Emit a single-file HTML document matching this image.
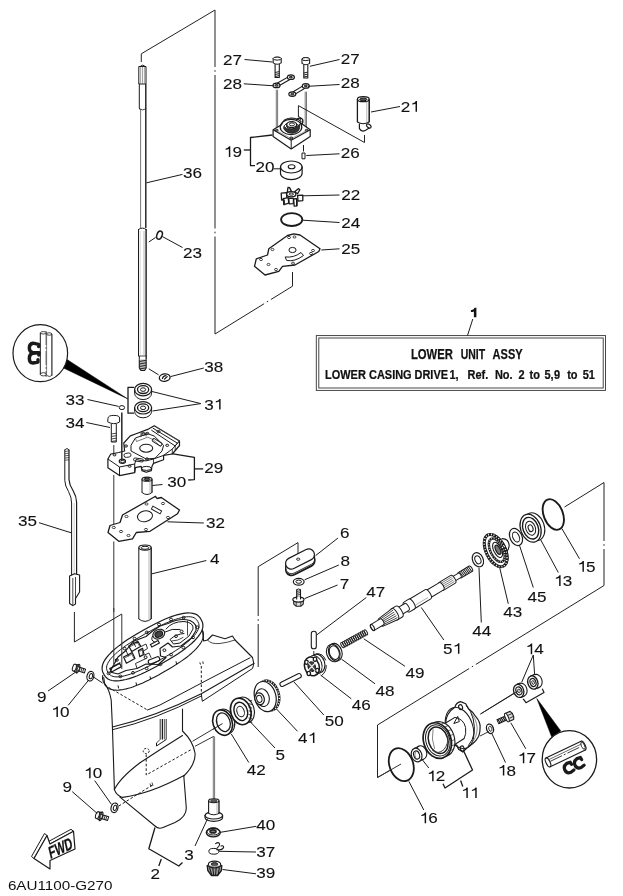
<!DOCTYPE html>
<html><head><meta charset="utf-8"><title>Lower Unit Assy</title>
<style>
html,body{margin:0;padding:0;background:#fff;}
body{width:623px;height:896px;overflow:hidden;font-family:"Liberation Sans",sans-serif;}
svg{display:block;will-change:transform;filter:grayscale(1);}
svg text{font-family:"Liberation Sans",sans-serif;fill:#111;stroke:#111;stroke-width:0.1px;}
svg text.b{stroke:#111;stroke-width:0.25px;}
svg text.n{stroke:none;}
</style></head><body>
<svg width="623" height="896" viewBox="0 0 623 896">
<rect width="623" height="896" fill="#fff"/>
<polyline points="141.3,62 141.3,53.8 215,10 215,334 292.5,286.2 292.5,272" fill="none" stroke="#222" stroke-width="1.0" stroke-linejoin="round" />
<line x1="215.0" y1="67.0" x2="215.0" y2="75.0" stroke="#fff" stroke-width="2.4" />
<line x1="215.0" y1="70.2" x2="215.0" y2="71.8" stroke="#222" stroke-width="1.0" />
<line x1="215.0" y1="228.5" x2="215.0" y2="236.5" stroke="#fff" stroke-width="2.4" />
<line x1="215.0" y1="231.7" x2="215.0" y2="233.3" stroke="#222" stroke-width="1.0" />
<line x1="264.0930922634278" y1="303.5959436238803" x2="270.9069077365722" y2="299.4040563761197" stroke="#fff" stroke-width="2.4" />
<line x1="266.81861845268554" y1="301.91918872477606" x2="268.18138154731446" y2="301.08081127522394" stroke="#222" stroke-width="1.0" />
<polyline points="74.4,612 74.4,642 121.8,614" fill="none" stroke="#222" stroke-width="1" stroke-linejoin="round" />
<line x1="113.8" y1="445" x2="113.8" y2="454" stroke="#333" stroke-width="1.0" />
<line x1="113.8" y1="475" x2="113.8" y2="524" stroke="#333" stroke-width="1.0" />
<line x1="113.8" y1="541.5" x2="113.8" y2="612" stroke="#333" stroke-width="1.0" />
<polyline points="298,557 298,542.6 258.2,566.7 258.2,667" fill="none" stroke="#222" stroke-width="1.0" stroke-linejoin="round" />
<line x1="258.2" y1="616.0" x2="258.2" y2="624.0" stroke="#fff" stroke-width="2.4" />
<line x1="258.2" y1="619.2" x2="258.2" y2="620.8" stroke="#222" stroke-width="1.0" />
<polyline points="564.5,507 604,482.5 604,585.5 377.5,725 377.5,777.5 401,764" fill="none" stroke="#222" stroke-width="1.0" stroke-linejoin="round" />
<line x1="604.0" y1="541.0" x2="604.0" y2="549.0" stroke="#fff" stroke-width="2.4" />
<line x1="604.0" y1="544.2" x2="604.0" y2="545.8" stroke="#222" stroke-width="1.0" />
<line x1="469.0930922634278" y1="668.5959436238803" x2="475.9069077365722" y2="664.4040563761197" stroke="#fff" stroke-width="2.4" />
<line x1="471.81861845268554" y1="666.9191887247761" x2="473.18138154731446" y2="666.0808112752239" stroke="#222" stroke-width="1.0" />
<line x1="220" y1="725" x2="192.5" y2="741.3" stroke="#333" stroke-width="1.0" />
<line x1="213.8" y1="736.3" x2="195" y2="746.3" stroke="#333" stroke-width="1.0" />
<line x1="213.3" y1="736.5" x2="213.3" y2="800" stroke="#555" stroke-width="0.8" />
<line x1="214.6" y1="736.5" x2="214.6" y2="800" stroke="#555" stroke-width="0.8" />
<line x1="480.5" y1="714" x2="515.8" y2="692" stroke="#333" stroke-width="1.0" />
<line x1="480" y1="736" x2="489" y2="731.5" stroke="#333" stroke-width="1.0" />
<path d="M140.2,66.5 Q142.6,63.6 145,66.5" fill="none" stroke="#1a1a1a" stroke-width="1" stroke-linejoin="round" stroke-linecap="round" />
<polygon points="138.8,66.5 146,66.5 146,84 138.8,84" fill="none" stroke="#1a1a1a" stroke-width="1.0" stroke-linejoin="round" />
<line x1="140.6" y1="67" x2="140.6" y2="84" stroke="#666" stroke-width="0.6" />
<line x1="142.5" y1="67" x2="142.5" y2="84" stroke="#666" stroke-width="0.6" />
<line x1="144.4" y1="67" x2="144.4" y2="84" stroke="#666" stroke-width="0.6" />
<polyline points="139.3,84 139.3,108 140.5,109.5" fill="none" stroke="#1a1a1a" stroke-width="1.0" stroke-linejoin="round" />
<line x1="145.8" y1="84" x2="145.8" y2="228" stroke="#1a1a1a" stroke-width="1.4" />
<path d="M139.3,109 Q142.6,111 145.8,109" fill="none" stroke="#1a1a1a" stroke-width="0.8" stroke-linejoin="round" stroke-linecap="round" />
<line x1="140.6" y1="109" x2="140.6" y2="228" stroke="#666" stroke-width="0.9" />
<path d="M138.5,229.5 Q142.4,226.5 146.1,229.5" fill="none" stroke="#1a1a1a" stroke-width="1.0" stroke-linejoin="round" stroke-linecap="round" />
<line x1="138.5" y1="229" x2="138.5" y2="356" stroke="#1a1a1a" stroke-width="1.0" />
<line x1="146.1" y1="229" x2="146.1" y2="356" stroke="#1a1a1a" stroke-width="1.4" />
<line x1="144" y1="231" x2="144" y2="355" stroke="#888" stroke-width="0.6" />
<line x1="140.2" y1="231" x2="140.2" y2="355" stroke="#aaa" stroke-width="0.5" />
<line x1="138" y1="356" x2="146.8" y2="356" stroke="#1a1a1a" stroke-width="0.8" />
<polyline points="139.3,359.5 139.3,368 141,370.5 144.6,370.5 146.2,368 146.2,359.5" fill="#bbb" stroke="#1a1a1a" stroke-width="1.1" stroke-linejoin="round" />
<line x1="139.3" y1="356" x2="139.3" y2="359.5" stroke="#1a1a1a" stroke-width="1.0" />
<line x1="146.2" y1="356" x2="146.2" y2="359.5" stroke="#1a1a1a" stroke-width="1.3" />
<line x1="139.5" y1="361.5" x2="146" y2="360.3" stroke="#222" stroke-width="1.0" />
<line x1="139.5" y1="364" x2="146" y2="362.8" stroke="#222" stroke-width="1.0" />
<line x1="139.5" y1="366.5" x2="146" y2="365.3" stroke="#222" stroke-width="1.0" />
<line x1="139.5" y1="369" x2="146" y2="367.8" stroke="#222" stroke-width="1.0" />
<ellipse cx="159.5" cy="235.2" rx="2.6" ry="4.2" fill="none" stroke="#1a1a1a" stroke-width="1.5" transform="rotate(20 159.5 235.2)" />
<line x1="148.8" y1="242" x2="155.5" y2="237.5" stroke="#1a1a1a" stroke-width="1.0" />
<line x1="162.3" y1="236.5" x2="182.5" y2="247.5" stroke="#1a1a1a" stroke-width="1.0" />
<line x1="182.5" y1="174.4" x2="146.5" y2="182.8" stroke="#1a1a1a" stroke-width="1.0" />
<ellipse cx="164.7" cy="377.6" rx="5.4" ry="3.7" fill="none" stroke="#1a1a1a" stroke-width="1.3" transform="rotate(-6 164.7 377.6)" />
<path d="M162.4,378.6 Q163,375.8 166,375.6 M164.6,379 L167.2,376.6" fill="none" stroke="#1a1a1a" stroke-width="1.2" stroke-linejoin="round" stroke-linecap="round" />
<line x1="148.8" y1="368.8" x2="158.5" y2="374.8" stroke="#1a1a1a" stroke-width="1.0" />
<line x1="203.8" y1="368" x2="170.5" y2="376.6" stroke="#1a1a1a" stroke-width="1.0" />
<path d="M134.6,389.6 L134.6,393.1 A8.5,6.5 0 0 0 151.6,393.1 L151.6,389.6" fill="none" stroke="#1a1a1a" stroke-width="1" stroke-linejoin="round" stroke-linecap="round" />
<ellipse cx="143.1" cy="389.6" rx="8.5" ry="6.2" fill="none" stroke="#1a1a1a" stroke-width="1.2" />
<ellipse cx="143.1" cy="389.6" rx="5.6" ry="3.9" fill="none" stroke="#1a1a1a" stroke-width="1.3" />
<ellipse cx="143.1" cy="389.6" rx="2.6" ry="1.8" fill="none" stroke="#1a1a1a" stroke-width="1.0" />
<path d="M134.6,407.8 L134.6,411.3 A8.5,6.5 0 0 0 151.6,411.3 L151.6,407.8" fill="none" stroke="#1a1a1a" stroke-width="1" stroke-linejoin="round" stroke-linecap="round" />
<ellipse cx="143.1" cy="407.8" rx="8.5" ry="6.2" fill="none" stroke="#1a1a1a" stroke-width="1.2" />
<ellipse cx="143.1" cy="407.8" rx="5.6" ry="3.9" fill="none" stroke="#1a1a1a" stroke-width="1.3" />
<ellipse cx="143.1" cy="407.8" rx="2.6" ry="1.8" fill="none" stroke="#1a1a1a" stroke-width="1.0" />
<polyline points="134,387.3 128,387.3 128,413.2 134,413.2" fill="none" stroke="#1a1a1a" stroke-width="1.3" stroke-linejoin="round" />
<line x1="200.8" y1="403.6" x2="152" y2="391.5" stroke="#1a1a1a" stroke-width="1.0" />
<line x1="200.8" y1="403.6" x2="152.5" y2="411" stroke="#1a1a1a" stroke-width="1.0" />
<ellipse cx="121.9" cy="407.6" rx="2.7" ry="2.0" fill="none" stroke="#1a1a1a" stroke-width="1" />
<line x1="87.5" y1="399.5" x2="118.6" y2="406.4" stroke="#1a1a1a" stroke-width="1.0" />
<path d="M108,418 Q108,415.4 113.8,415.4 Q119.6,415.4 119.6,418 L119.6,422 Q113.8,425.5 108,422 Z" fill="none" stroke="#1a1a1a" stroke-width="1" stroke-linejoin="round" stroke-linecap="round" />
<polyline points="111.3,424 111.3,442 116.3,442 116.3,424" fill="none" stroke="#1a1a1a" stroke-width="1" stroke-linejoin="round" />
<line x1="111.3" y1="434" x2="116.3" y2="433.2" stroke="#1a1a1a" stroke-width="0.8" />
<line x1="111.3" y1="436.5" x2="116.3" y2="435.7" stroke="#1a1a1a" stroke-width="0.8" />
<line x1="111.3" y1="439" x2="116.3" y2="438.2" stroke="#1a1a1a" stroke-width="0.8" />
<line x1="111.3" y1="441.5" x2="116.3" y2="440.7" stroke="#1a1a1a" stroke-width="0.8" />
<line x1="86.3" y1="422.5" x2="110" y2="427.5" stroke="#1a1a1a" stroke-width="1.0" />
<ellipse cx="277.2" cy="58.599999999999994" rx="4" ry="1.5" fill="#fff" stroke="#1a1a1a" stroke-width="1.0" />
<path d="M273.2,58.599999999999994 L273.2,62.9 Q277.2,65.5 281.2,62.9 L281.2,58.599999999999994" fill="#fff" stroke="#1a1a1a" stroke-width="1.1" stroke-linejoin="round" stroke-linecap="round" />
<ellipse cx="277.2" cy="58.599999999999994" rx="4" ry="1.5" fill="#fff" stroke="#1a1a1a" stroke-width="1.0" />
<polyline points="275.09999999999997,64.1 275.09999999999997,77.5 279.3,77.5 279.3,64.1" fill="none" stroke="#1a1a1a" stroke-width="1.1" stroke-linejoin="round" />
<line x1="275.09999999999997" y1="76.5" x2="279.3" y2="75.6" stroke="#222" stroke-width="1.0" />
<line x1="275.09999999999997" y1="74.5" x2="279.3" y2="73.6" stroke="#222" stroke-width="1.0" />
<line x1="275.09999999999997" y1="72.5" x2="279.3" y2="71.6" stroke="#222" stroke-width="1.0" />
<ellipse cx="305.8" cy="59.099999999999994" rx="3.8" ry="1.5" fill="#fff" stroke="#1a1a1a" stroke-width="1.0" />
<path d="M302.0,59.099999999999994 L302.0,63.4 Q305.8,66.0 309.6,63.4 L309.6,59.099999999999994" fill="#fff" stroke="#1a1a1a" stroke-width="1.1" stroke-linejoin="round" stroke-linecap="round" />
<ellipse cx="305.8" cy="59.099999999999994" rx="3.8" ry="1.5" fill="#fff" stroke="#1a1a1a" stroke-width="1.0" />
<polyline points="303.8,64.6 303.8,78 307.8,78 307.8,64.6" fill="none" stroke="#1a1a1a" stroke-width="1.1" stroke-linejoin="round" />
<line x1="303.8" y1="77" x2="307.8" y2="76.1" stroke="#222" stroke-width="1.0" />
<line x1="303.8" y1="75.0" x2="307.8" y2="74.1" stroke="#222" stroke-width="1.0" />
<line x1="303.8" y1="73.0" x2="307.8" y2="72.1" stroke="#222" stroke-width="1.0" />
<g transform="translate(276.5 85.4) rotate(-29.65910923599515)">
<path d="M0,-1.5 L16.571059109181867,-1.5 M0,1.5 L16.571059109181867,1.5" fill="none" stroke="#1a1a1a" stroke-width="1.1" stroke-linejoin="round" stroke-linecap="round" />
</g>
<ellipse cx="276.5" cy="85.4" rx="3.5" ry="2.3" fill="#fff" stroke="#1a1a1a" stroke-width="1.2" />
<ellipse cx="290.9" cy="77.2" rx="3.5" ry="2.3" fill="#fff" stroke="#1a1a1a" stroke-width="1.2" />
<ellipse cx="276.5" cy="85.4" rx="1.5" ry="0.9" fill="#777" stroke="#1a1a1a" stroke-width="1.0" />
<ellipse cx="290.9" cy="77.2" rx="1.5" ry="0.9" fill="#777" stroke="#1a1a1a" stroke-width="1.0" />
<g transform="translate(292.3 94.1) rotate(-31.274805482317028)">
<path d="M0,-1.5 L15.79525245129054,-1.5 M0,1.5 L15.79525245129054,1.5" fill="none" stroke="#1a1a1a" stroke-width="1.1" stroke-linejoin="round" stroke-linecap="round" />
</g>
<ellipse cx="292.3" cy="94.1" rx="3.5" ry="2.3" fill="#fff" stroke="#1a1a1a" stroke-width="1.2" />
<ellipse cx="305.8" cy="85.9" rx="3.5" ry="2.3" fill="#fff" stroke="#1a1a1a" stroke-width="1.2" />
<ellipse cx="292.3" cy="94.1" rx="1.5" ry="0.9" fill="#777" stroke="#1a1a1a" stroke-width="1.0" />
<ellipse cx="305.8" cy="85.9" rx="1.5" ry="0.9" fill="#777" stroke="#1a1a1a" stroke-width="1.0" />
<line x1="276.29999999999995" y1="89.7" x2="276.29999999999995" y2="130.2" stroke="#555" stroke-width="0.8" />
<line x1="277.59999999999997" y1="89.7" x2="277.59999999999997" y2="130.2" stroke="#555" stroke-width="0.8" />
<line x1="305.2" y1="91.7" x2="305.2" y2="130.2" stroke="#555" stroke-width="0.8" />
<line x1="306.5" y1="91.7" x2="306.5" y2="130.2" stroke="#555" stroke-width="0.8" />
<polygon points="273.1,129.7 286.5,121.8 300,122.5 310.2,129.7 310.2,136.4 291.2,149 273.1,136.4" fill="#fff" stroke="#1a1a1a" stroke-width="1.2" stroke-linejoin="round" />
<polyline points="273.1,129.7 291.2,140.3 310.2,129.7" fill="none" stroke="#1a1a1a" stroke-width="1.1" stroke-linejoin="round" />
<line x1="291.2" y1="140.3" x2="291.2" y2="149" stroke="#1a1a1a" stroke-width="1" />
<polyline points="275.5,130 291.2,138.6 307.8,130" fill="none" stroke="#666" stroke-width="0.6" stroke-linejoin="round" />
<ellipse cx="291" cy="127" rx="10.8" ry="7.6" fill="#fff" stroke="#1a1a1a" stroke-width="1.2" />
<path d="M281.5,125 Q283,118.5 291,118 Q297.5,118 301,121.5" fill="none" stroke="#1a1a1a" stroke-width="1.1" stroke-linejoin="round" stroke-linecap="round" />
<ellipse cx="291.3" cy="127.6" rx="7.6" ry="5" fill="none" stroke="#1a1a1a" stroke-width="1.0" />
<path d="M284.5,129.5 Q287,133.6 293,133.2 Q299,132.5 299.6,127.6 L299.6,124 Q296,129.5 290,129.3 Q286,129 284.5,126.8 Z" fill="#333" stroke="#1a1a1a" stroke-width="0.8" stroke-linejoin="round" stroke-linecap="round" />
<ellipse cx="291.7" cy="124.6" rx="5" ry="3" fill="#fff" stroke="#1a1a1a" stroke-width="1.1" />
<ellipse cx="291.9" cy="124.4" rx="2.6" ry="1.5" fill="none" stroke="#1a1a1a" stroke-width="1.0" />
<path d="M286.7,124.6 L286.7,127 Q291.7,131 296.7,127 L296.7,124.6" fill="none" stroke="#1a1a1a" stroke-width="1.0" stroke-linejoin="round" stroke-linecap="round" />
<path d="M296.5,119.8 Q300,116.4 302.6,119.4 Q303.6,122.5 301.4,124.6" fill="none" stroke="#1a1a1a" stroke-width="1.3" stroke-linejoin="round" stroke-linecap="round" />
<path d="M299.4,116.6 Q301,117.6 300.6,119.4" fill="none" stroke="#1a1a1a" stroke-width="1.0" stroke-linejoin="round" stroke-linecap="round" />
<ellipse cx="276.8" cy="130.2" rx="1.4" ry="0.9" fill="none" stroke="#1a1a1a" stroke-width="1.0" />
<ellipse cx="306.6" cy="130.2" rx="1.4" ry="0.9" fill="none" stroke="#1a1a1a" stroke-width="1.0" />
<ellipse cx="291.3" cy="138" rx="1.5" ry="1" fill="#999" stroke="#1a1a1a" stroke-width="1.0" />
<polyline points="298.4,117 298.4,105.6 364.5,142.5 364.5,135" fill="none" stroke="#222" stroke-width="1.0" stroke-linejoin="round" />
<ellipse cx="363.3" cy="99.2" rx="5.9" ry="2.5" fill="#fff" stroke="#1a1a1a" stroke-width="1.3" />
<ellipse cx="363.3" cy="99.4" rx="3.6" ry="1.4" fill="#555" stroke="#1a1a1a" stroke-width="1.0" />
<line x1="357.4" y1="99.2" x2="357.4" y2="122" stroke="#1a1a1a" stroke-width="1.3" />
<line x1="369.2" y1="99.2" x2="369.2" y2="122" stroke="#1a1a1a" stroke-width="1.5" />
<path d="M357.4,122 Q363,125.4 369.2,122" fill="none" stroke="#1a1a1a" stroke-width="1.1" stroke-linejoin="round" stroke-linecap="round" />
<line x1="366.8" y1="101.5" x2="366.8" y2="122.6" stroke="#888" stroke-width="0.6" />
<path d="M359.4,124 L359.4,128.6 Q361.6,132.4 365.6,130.2 L369.6,127.8" fill="none" stroke="#1a1a1a" stroke-width="1.2" stroke-linejoin="round" stroke-linecap="round" />
<ellipse cx="368.8" cy="126" rx="1.6" ry="2.6" fill="#fff" stroke="#1a1a1a" stroke-width="1.1" transform="rotate(-50 368.8 126)" />
<polyline points="272.5,135 250.5,137.5 250.5,165.7 255,165.7" fill="none" stroke="#1a1a1a" stroke-width="1.3" stroke-linejoin="round" />
<line x1="243.8" y1="150" x2="250.5" y2="150" stroke="#1a1a1a" stroke-width="1.3" />
<ellipse cx="291.3" cy="167" rx="10.8" ry="6" fill="none" stroke="#1a1a1a" stroke-width="1.2" />
<path d="M280.5,167 L280.5,173.6 A10.8,6 0 0 0 302.1,173.6 L302.1,167" fill="none" stroke="#1a1a1a" stroke-width="1.2" stroke-linejoin="round" stroke-linecap="round" />
<ellipse cx="291.6" cy="166.8" rx="3.4" ry="2" fill="none" stroke="#1a1a1a" stroke-width="1.1" />
<line x1="273.8" y1="168.8" x2="280.6" y2="168.8" stroke="#1a1a1a" stroke-width="1.0" />
<polygon points="302,153 305,153 305,158.8 302,158.8" fill="none" stroke="#1a1a1a" stroke-width="1" stroke-linejoin="round" />
<line x1="303.5" y1="145" x2="303.5" y2="151.5" stroke="#1a1a1a" stroke-width="1.0" />
<line x1="339.5" y1="153.8" x2="306.3" y2="155.5" stroke="#1a1a1a" stroke-width="1.0" />
<polygon points="287.2,192.6 288,187.4 289.6,187.6 291.5,191.6" fill="#fff" stroke="#1a1a1a" stroke-width="1.3" stroke-linejoin="round" />
<polygon points="294.6,191.8 298.6,188.6 299.8,189.8 297.6,193.8" fill="#fff" stroke="#1a1a1a" stroke-width="1.3" stroke-linejoin="round" />
<polygon points="281.2,193.2 286.4,192.6 287,199 281.6,200" fill="#fff" stroke="#1a1a1a" stroke-width="1.3" stroke-linejoin="round" />
<polygon points="297.6,195.4 302.8,195.2 302.8,200.6 298,201.2" fill="#fff" stroke="#1a1a1a" stroke-width="1.3" stroke-linejoin="round" />
<polygon points="283.2,198.6 288.2,197.6 288.8,203.2 284,204.6" fill="#fff" stroke="#1a1a1a" stroke-width="1.3" stroke-linejoin="round" />
<polygon points="288.8,198.2 293.4,198.4 293.4,203.6 289.2,203.8" fill="#fff" stroke="#1a1a1a" stroke-width="1.3" stroke-linejoin="round" />
<polygon points="293.6,199 296.6,198.6 296.8,205.8 294.2,206.2" fill="#fff" stroke="#1a1a1a" stroke-width="1.3" stroke-linejoin="round" />
<path d="M284,204.4 L284,200 M296.8,205.6 L296.8,200" fill="none" stroke="#1a1a1a" stroke-width="1.6" stroke-linejoin="round" stroke-linecap="round" />
<ellipse cx="291.3" cy="194.2" rx="4.6" ry="2.6" fill="#fff" stroke="#1a1a1a" stroke-width="1.3" />
<ellipse cx="291.3" cy="194.1" rx="2.2" ry="1.1" fill="none" stroke="#1a1a1a" stroke-width="1" />
<line x1="339.5" y1="195" x2="303" y2="195.8" stroke="#1a1a1a" stroke-width="1.0" />
<ellipse cx="291.7" cy="219.6" rx="10.6" ry="6.4" fill="none" stroke="#1a1a1a" stroke-width="1.8" />
<line x1="339.5" y1="222.5" x2="302.6" y2="220.2" stroke="#1a1a1a" stroke-width="1.0" />
<polygon points="293.8,233.8 300,235 320,248.8 318.8,251.5 295,265 282.5,266.3 278.8,271.3 265,275 254.5,266.3 256.3,258.8 267.5,255 268.8,248.8 287.5,235.5" fill="none" stroke="#1a1a1a" stroke-width="1.3" stroke-linejoin="round" />
<ellipse cx="292.5" cy="250" rx="3.6" ry="2.6" fill="none" stroke="#1a1a1a" stroke-width="1" />
<path d="M285.5,257 Q294,258 301,252.5 L303.5,255.5 Q295,262 287,260.5 Z" fill="none" stroke="#1a1a1a" stroke-width="1.0" stroke-linejoin="round" stroke-linecap="round" />
<ellipse cx="289" cy="237.5" rx="1.5" ry="1.1" fill="none" stroke="#1a1a1a" stroke-width="0.8" />
<ellipse cx="294.5" cy="237" rx="1.5" ry="1.1" fill="none" stroke="#1a1a1a" stroke-width="0.8" />
<ellipse cx="272.5" cy="249.5" rx="1.5" ry="1.1" fill="none" stroke="#1a1a1a" stroke-width="0.8" />
<ellipse cx="313" cy="250.5" rx="1.5" ry="1.1" fill="none" stroke="#1a1a1a" stroke-width="0.8" />
<ellipse cx="311" cy="253.5" rx="1.5" ry="1.1" fill="none" stroke="#1a1a1a" stroke-width="0.8" />
<ellipse cx="261" cy="259.5" rx="1.5" ry="1.1" fill="none" stroke="#1a1a1a" stroke-width="0.8" />
<ellipse cx="268.5" cy="264.5" rx="1.5" ry="1.1" fill="none" stroke="#1a1a1a" stroke-width="0.8" />
<ellipse cx="276" cy="269.5" rx="1.5" ry="1.1" fill="none" stroke="#1a1a1a" stroke-width="0.8" />
<ellipse cx="293" cy="263.2" rx="1.5" ry="1.1" fill="none" stroke="#1a1a1a" stroke-width="0.8" />
<line x1="339.5" y1="248.8" x2="321.3" y2="250" stroke="#1a1a1a" stroke-width="1.0" />
<rect x="316.3" y="335.6" width="289.2" height="54.8" fill="none" stroke="#333" stroke-width="0.9"/>
<rect x="318.8" y="338" width="284.4" height="50" fill="none" stroke="#333" stroke-width="0.9"/>
<text class="b" x="410.9" y="358.9" font-size="14.7" font-weight="bold" textLength="42.0" lengthAdjust="spacingAndGlyphs">LOWER</text>
<text class="b" x="460.7" y="358.9" font-size="14.7" font-weight="bold" textLength="24.4" lengthAdjust="spacingAndGlyphs">UNIT</text>
<text class="b" x="492.6" y="358.9" font-size="14.7" font-weight="bold" textLength="30.0" lengthAdjust="spacingAndGlyphs">ASSY</text>
<text class="b" transform="translate(325.0 378.9) scale(0.85 1)" font-size="12.9" font-weight="bold">LOWER</text>
<text class="b" transform="translate(369.0 378.9) scale(0.85 1)" font-size="12.9" font-weight="bold">CASING</text>
<text class="b" transform="translate(414.5 378.9) scale(0.85 1)" font-size="12.9" font-weight="bold">DRIVE</text>
<text class="b" transform="translate(449.5 378.9) scale(0.85 1)" font-size="12.9" font-weight="bold">1,</text>
<text class="b" transform="translate(467.6 378.9) scale(0.85 1)" font-size="12.9" font-weight="bold">Ref.</text>
<text class="b" transform="translate(494.9 378.9) scale(0.85 1)" font-size="12.9" font-weight="bold">No.</text>
<text class="b" transform="translate(518.6 378.9) scale(0.85 1)" font-size="12.9" font-weight="bold">2</text>
<text class="b" transform="translate(529.5 378.9) scale(0.85 1)" font-size="12.9" font-weight="bold">to</text>
<text class="b" transform="translate(544.5 378.9) scale(0.85 1)" font-size="12.9" font-weight="bold">5,</text>
<text class="b" transform="translate(554.1 378.9) scale(0.85 1)" font-size="12.9" font-weight="bold">9</text>
<text class="b" transform="translate(567.2 378.9) scale(0.85 1)" font-size="12.9" font-weight="bold">to</text>
<text class="b" transform="translate(582.7 378.9) scale(0.85 1)" font-size="12.9" font-weight="bold">51</text>
<path d="M476.4,317.3 L476.4,307.8 L474.7,307.8 Q473.7,310 470.9,310.3 L470.9,312 Q472.7,312 473.9,311.5 L473.9,317.3 Z" fill="#111"/>
<line x1="472.8" y1="319" x2="467.5" y2="335.5" stroke="#1a1a1a" stroke-width="1.0" />
<polygon points="65.5,358.5 63.5,368 127.8,398.9" fill="#000" stroke="#000" stroke-width="0.5" stroke-linejoin="round" />
<ellipse cx="40.3" cy="353.2" rx="27.3" ry="28.5" fill="#fff" stroke="#1a1a1a" stroke-width="1.2" />
<line x1="40.3" y1="333" x2="40.3" y2="374.5" stroke="#1a1a1a" stroke-width="1" />
<line x1="51.9" y1="334" x2="51.9" y2="375.5" stroke="#1a1a1a" stroke-width="1.1" />
<line x1="46.1" y1="331" x2="46.1" y2="377" stroke="#333" stroke-width="0.8" stroke-dasharray="14 2 2 2"/>
<line x1="46.6" y1="334" x2="46.6" y2="373" stroke="#555" stroke-width="0.7" />
<ellipse cx="43.4" cy="332.8" rx="3.1" ry="1.2" fill="none" stroke="#1a1a1a" stroke-width="0.8" />
<ellipse cx="49.2" cy="334" rx="2.7" ry="1.2" fill="none" stroke="#1a1a1a" stroke-width="0.8" />
<ellipse cx="43.4" cy="374.3" rx="3.1" ry="1.6" fill="none" stroke="#1a1a1a" stroke-width="0.8" />
<path d="M46.6,375 Q49.3,378 51.9,375.2" fill="none" stroke="#1a1a1a" stroke-width="0.8" stroke-linejoin="round" stroke-linecap="round" />
<path d="M38.6,346.6 L38.6,344.4 L33,343.2 Q29.3,343.6 29.3,348 Q29.3,352 33,352.6 L38.8,352.6" fill="none" stroke="#1a1a1a" stroke-width="3.4" stroke-linejoin="round" stroke-linecap="round" />
<path d="M38.8,352.6 L38.8,355 M38.8,352.6 L33,353.2 Q29.3,354 29.3,358.4 Q29.3,362.6 33,363 L38,362 L38,359.8" fill="none" stroke="#1a1a1a" stroke-width="3.4" stroke-linejoin="round" stroke-linecap="round" />
<polygon points="536.8,698.5 551.6,736.8 560.8,731" fill="#000" stroke="#000" stroke-width="0.5" stroke-linejoin="round" />
<ellipse cx="569.4" cy="759.3" rx="27.2" ry="28.7" fill="#fff" stroke="#1a1a1a" stroke-width="1.3" />
<g transform="translate(565.6 754) rotate(-25.6)">
<path d="M-19.5,-4.9 L19.5,-4.9 M-19.5,4.9 L19.5,4.9" fill="none" stroke="#1a1a1a" stroke-width="1.1" stroke-linejoin="round" stroke-linecap="round" />
<ellipse cx="-19.5" cy="0" rx="2" ry="4.9" fill="none" stroke="#1a1a1a" stroke-width="1.1" />
<path d="M19.5,-4.9 A2,4.9 0 0 1 19.5,4.9" fill="none" stroke="#1a1a1a" stroke-width="1.1" stroke-linejoin="round" stroke-linecap="round" />
<ellipse cx="19.2" cy="0" rx="1.6" ry="3.8" fill="none" stroke="#1a1a1a" stroke-width="0.8" />
<line x1="-17" y1="0" x2="17" y2="0" stroke="#222" stroke-width="0.8" stroke-dasharray="13 2 2 2"/>
<line x1="-18" y1="-2.2" x2="19" y2="-2.2" stroke="#444" stroke-width="0.7" />
</g>
<g transform="translate(573.4 765.6) rotate(-25)">
<path d="M-1.2,-2.0 L-1.4,-4.4 L-5,-4.8 Q-9.6,-4 -9.6,0.4 Q-9.6,4.8 -5,5 L-1.4,4.2" fill="none" stroke="#1a1a1a" stroke-width="3.2" stroke-linejoin="round" stroke-linecap="round" />
<path d="M10,-2.0 L9.8,-4.4 L6.2,-4.8 Q1.6,-4 1.6,0.4 Q1.6,4.8 6.2,5 L9.8,4.2" fill="none" stroke="#1a1a1a" stroke-width="3.2" stroke-linejoin="round" stroke-linecap="round" />
</g>
<polygon points="107.9,459 110.8,454 118.8,452.5 124.6,451 123.8,443 130.3,435.9 136.1,433.7 147.7,429.4 154.2,425.8 179.5,441 179.5,445.5 172.3,454 163.6,455.4 163.6,459.7 153.5,463.4 152,466.2 151.3,470.6 146.2,472.3 141.9,470.6 141.2,466.4 135.4,467.7 134.7,472.7 119.5,475.6 107.9,467.7" fill="#fff" stroke="#1a1a1a" stroke-width="1.2" stroke-linejoin="round" />
<polyline points="107.9,459 119.5,467 134.7,464 136.1,459.4 141,460.6 146.2,460.8 153.5,459 163.6,455.4" fill="none" stroke="#1a1a1a" stroke-width="1" stroke-linejoin="round" />
<line x1="119.5" y1="467" x2="119.5" y2="475.6" stroke="#1a1a1a" stroke-width="1" />
<line x1="134.7" y1="464" x2="134.7" y2="472.7" stroke="#1a1a1a" stroke-width="1.0" />
<polyline points="153.5,459 153.5,463.4" fill="none" stroke="#1a1a1a" stroke-width="0.8" stroke-linejoin="round" />
<polyline points="172.3,449 172.3,454" fill="none" stroke="#1a1a1a" stroke-width="0.8" stroke-linejoin="round" />
<polyline points="163.6,455.4 172.3,449 179.5,441" fill="none" stroke="#1a1a1a" stroke-width="1.0" stroke-linejoin="round" />
<line x1="152.7" y1="428" x2="177.3" y2="443.1" stroke="#1a1a1a" stroke-width="1.0" />
<line x1="151.3" y1="430.1" x2="175.2" y2="446" stroke="#1a1a1a" stroke-width="1.0" />
<line x1="156.6" y1="427.3" x2="179.5" y2="441.2" stroke="#555" stroke-width="0.6" />
<polyline points="179.5,441 177.3,443.1 175.2,446 175.2,450" fill="none" stroke="#1a1a1a" stroke-width="0.8" stroke-linejoin="round" />
<polygon points="131,445.3 135.4,438 147.7,433.7 154.2,436 163.6,445.3 162,451 155,458.3 146.2,459 131,451" fill="none" stroke="#1a1a1a" stroke-width="1" stroke-linejoin="round" />
<polyline points="135.4,438 136.5,441.5 147.7,437.2 153,439.5 160.5,446.5" fill="none" stroke="#444" stroke-width="0.7" stroke-linejoin="round" />
<ellipse cx="146.2" cy="448.2" rx="6.5" ry="4" fill="none" stroke="#1a1a1a" stroke-width="1.1" />
<ellipse cx="122.4" cy="461.2" rx="3.1" ry="2.1" fill="none" stroke="#1a1a1a" stroke-width="1.2" />
<ellipse cx="122.6" cy="461.6" rx="1.8" ry="1.1" fill="none" stroke="#1a1a1a" stroke-width="0.8" />
<ellipse cx="114.5" cy="454.9" rx="1.5" ry="1" fill="none" stroke="#1a1a1a" stroke-width="1.0" />
<rect x="124" y="453.2" width="7" height="4" rx="2" fill="none" stroke="#1a1a1a" stroke-width="0.9" transform="rotate(-8 127.5 455.2)"/>
<rect x="133.5" y="458.4" width="10" height="3" rx="1.5" fill="none" stroke="#1a1a1a" stroke-width="0.9" transform="rotate(8 138 460)"/>
<rect x="152" y="440.5" width="10.5" height="3.2" rx="1" fill="none" stroke="#1a1a1a" stroke-width="0.9" transform="rotate(32 157 442)"/>
<path d="M141,436.5 L141,433 Q144,431.5 146,433.5 L146,436" fill="none" stroke="#1a1a1a" stroke-width="0.8" stroke-linejoin="round" stroke-linecap="round" />
<ellipse cx="126" cy="446" rx="1.5" ry="1.1" fill="none" stroke="#1a1a1a" stroke-width="1.0" />
<ellipse cx="143.4" cy="434.3" rx="1.5" ry="1.1" fill="none" stroke="#1a1a1a" stroke-width="1.0" />
<ellipse cx="147.3" cy="433.4" rx="1.5" ry="1.1" fill="none" stroke="#1a1a1a" stroke-width="1.0" />
<ellipse cx="167.2" cy="445.3" rx="1.5" ry="1.1" fill="none" stroke="#1a1a1a" stroke-width="1.0" />
<ellipse cx="147" cy="459" rx="1.5" ry="1.1" fill="none" stroke="#1a1a1a" stroke-width="1.0" />
<ellipse cx="129.6" cy="466.2" rx="1.5" ry="1.1" fill="none" stroke="#1a1a1a" stroke-width="1.0" />
<ellipse cx="158.5" cy="431.6" rx="1.5" ry="1.1" fill="none" stroke="#1a1a1a" stroke-width="1.0" />
<ellipse cx="146.4" cy="468.4" rx="4.8" ry="2" fill="none" stroke="#1a1a1a" stroke-width="1.0" />
<line x1="121.8" y1="412.5" x2="121.8" y2="461" stroke="#333" stroke-width="1.6" />
<polyline points="171.5,453.6 194.4,457.3 194.4,479.6 188.2,480" fill="none" stroke="#1a1a1a" stroke-width="1.3" stroke-linejoin="round" />
<line x1="194.2" y1="468.9" x2="203.2" y2="468.9" stroke="#1a1a1a" stroke-width="1.3" />
<ellipse cx="147" cy="479.2" rx="5" ry="2.1" fill="none" stroke="#1a1a1a" stroke-width="1.1" />
<ellipse cx="147" cy="479.4" rx="3" ry="1.2" fill="#555" stroke="#1a1a1a" stroke-width="1.0" />
<line x1="142" y1="479.2" x2="142" y2="492.5" stroke="#1a1a1a" stroke-width="1" />
<line x1="152" y1="479.2" x2="152" y2="492.5" stroke="#1a1a1a" stroke-width="1.3" />
<path d="M142,492.5 Q147,496.8 152,492.5" fill="none" stroke="#1a1a1a" stroke-width="1" stroke-linejoin="round" stroke-linecap="round" />
<line x1="150" y1="481" x2="150" y2="493.5" stroke="#888" stroke-width="0.6" />
<line x1="162.5" y1="484.5" x2="152.3" y2="485.5" stroke="#1a1a1a" stroke-width="1.0" />
<polygon points="108,532.5 110,525.5 120,522.5 122.5,515 155.5,496.3 157,498.5 161.3,497.5 179.5,510 177.5,513.8 150,531.3 136.3,532.5 132.5,538.8 118.8,541.3" fill="#fff" stroke="#1a1a1a" stroke-width="1.3" stroke-linejoin="round" />
<ellipse cx="145" cy="516.3" rx="7.6" ry="5.4" fill="none" stroke="#1a1a1a" stroke-width="1" transform="rotate(-12 145 516.3)" />
<g transform="translate(156.5 510) rotate(29)">
<rect x="-5" y="-1.6" width="10" height="3.2" fill="none" stroke="#1a1a1a" stroke-width="0.9"/>
</g>
<ellipse cx="113.8" cy="527.5" rx="1.6" ry="1.1" fill="none" stroke="#1a1a1a" stroke-width="0.8" />
<ellipse cx="126.5" cy="516.5" rx="1.6" ry="1.1" fill="none" stroke="#1a1a1a" stroke-width="0.8" />
<ellipse cx="146.5" cy="504" rx="1.6" ry="1.1" fill="none" stroke="#1a1a1a" stroke-width="0.8" />
<ellipse cx="168" cy="517.5" rx="1.6" ry="1.1" fill="none" stroke="#1a1a1a" stroke-width="0.8" />
<ellipse cx="146" cy="529.5" rx="1.6" ry="1.1" fill="none" stroke="#1a1a1a" stroke-width="0.8" />
<ellipse cx="128.5" cy="535.5" rx="1.6" ry="1.1" fill="none" stroke="#1a1a1a" stroke-width="0.8" />
<ellipse cx="121" cy="531.5" rx="1.6" ry="1.1" fill="none" stroke="#1a1a1a" stroke-width="0.8" />
<ellipse cx="163" cy="503.5" rx="1.6" ry="1.1" fill="none" stroke="#1a1a1a" stroke-width="0.8" />
<line x1="203.8" y1="523" x2="167.5" y2="521.8" stroke="#1a1a1a" stroke-width="1.0" />
<ellipse cx="145" cy="547.6" rx="6.2" ry="2.6" fill="none" stroke="#1a1a1a" stroke-width="1.1" />
<ellipse cx="145" cy="547.8" rx="3.9" ry="1.5" fill="none" stroke="#1a1a1a" stroke-width="1.0" />
<line x1="138.8" y1="547.6" x2="138.8" y2="619" stroke="#1a1a1a" stroke-width="1" />
<line x1="151.2" y1="547.6" x2="151.2" y2="619" stroke="#1a1a1a" stroke-width="1.4" />
<path d="M138.8,619 Q145,624 151.2,619" fill="none" stroke="#1a1a1a" stroke-width="1" stroke-linejoin="round" stroke-linecap="round" />
<line x1="149" y1="550" x2="149" y2="620.5" stroke="#888" stroke-width="0.6" />
<line x1="206.3" y1="560.5" x2="152" y2="573.8" stroke="#1a1a1a" stroke-width="1.0" />
<path d="M64.8,450 Q66.9,447 69,450" fill="none" stroke="#1a1a1a" stroke-width="1.0" stroke-linejoin="round" stroke-linecap="round" />
<path d="M64.8,450 L64.8,480.5 Q65,486 68.5,491.5 Q71.6,497 71.6,503 L71.6,576" fill="none" stroke="#1a1a1a" stroke-width="1" stroke-linejoin="round" stroke-linecap="round" />
<path d="M69,450 L69,479.5 Q69.3,485 73,490.5 Q76.6,496.5 76.6,502.5 L76.6,576" fill="none" stroke="#1a1a1a" stroke-width="1.2" stroke-linejoin="round" stroke-linecap="round" />
<line x1="64.8" y1="451.5" x2="69" y2="450.9" stroke="#1a1a1a" stroke-width="0.7" />
<line x1="64.8" y1="453.7" x2="69" y2="453.09999999999997" stroke="#1a1a1a" stroke-width="0.7" />
<line x1="64.8" y1="455.9" x2="69" y2="455.29999999999995" stroke="#1a1a1a" stroke-width="0.7" />
<line x1="64.8" y1="458.1" x2="69" y2="457.5" stroke="#1a1a1a" stroke-width="0.7" />
<line x1="64.8" y1="460.3" x2="69" y2="459.7" stroke="#1a1a1a" stroke-width="0.7" />
<line x1="74.2" y1="503" x2="74.2" y2="576" stroke="#999" stroke-width="0.5" />
<polygon points="69.6,576 69.6,603.5 72.8,605.6 75.5,604 75.5,598.5 79.6,592 79.6,575 74.5,573.8" fill="#fff" stroke="#1a1a1a" stroke-width="1.1" stroke-linejoin="round" />
<line x1="72.8" y1="578" x2="72.8" y2="605" stroke="#1a1a1a" stroke-width="0.8" />
<line x1="75.5" y1="577" x2="75.5" y2="598" stroke="#1a1a1a" stroke-width="0.8" />
<line x1="39" y1="522.7" x2="71.5" y2="532.9" stroke="#1a1a1a" stroke-width="1.0" />
<g id="casing">
<path d="M104.3,682 Q109.5,690 111.2,700 L112.4,726.5 L114.4,789.6 L120,797.5 L155,826 Q158.5,829.5 163,827.5 L175,822.5 Q186.5,817 186.3,808 L183.8,776 Q196,764 195,753 Q193,741 182.5,731 L182.5,711 L202,700.5 L252.5,668 L253.8,663.5 L252.5,657.5 L235,640 L232.5,636 L225,638.8 L212.5,635 L207.5,640 L203.5,641 Z" fill="#fff" stroke="#fff" stroke-width="0.1" stroke-linejoin="round" stroke-linecap="round" />
<g transform="rotate(-26.6 152.7 651)">
</g>
<polyline points="191.9,622.4 193.3,622.6 194.6,622.9 195.9,623.3 197.0,623.9 198.1,624.5 199.0,625.3 199.9,626.3 200.8,627.4 201.8,629.2 202.6,630.7 203.0,632.0 203.3,633.2 203.4,634.5 203.4,635.7 203.2,637.0 202.9,638.2 202.5,639.5 201.9,640.9 201.2,642.2 200.3,643.6 199.3,645.0 198.2,646.4 197.0,647.9 195.6,649.4 194.1,650.9 192.5,652.4 190.7,654.0 188.8,655.6 186.8,657.2 184.7,658.8 182.4,660.4 179.9,662.1 177.3,663.8 174.5,665.6 171.5,667.5 168.1,669.5 164.0,671.8 158.6,674.9 154.8,676.9 151.5,678.6 148.5,680.2 145.6,681.6 142.8,682.9 140.2,684.0 137.6,685.1 135.1,686.0 132.8,686.9 130.5,687.7 128.3,688.3 126.2,688.9 124.2,689.3 122.2,689.7 120.4,689.9 118.6,690.1 116.9,690.2 115.3,690.1 113.9,690.0 112.5,689.8 111.2,689.4 109.9,689.0 108.8,688.4 107.8,687.7 106.8,686.9 105.9,686.0 105.1,684.8 104.0,682.9 103.3,681.5 102.9,680.2 102.6,679.0 102.5,677.8 102.6,676.5 102.8,675.2" fill="#fff" stroke="#1a1a1a" stroke-width="1.1" stroke-linejoin="round" />
<polygon points="201.1,619.5 202.3,621.9 202.8,623.9 202.9,625.9 202.7,627.9 202.1,629.9 201.2,632.0 199.9,634.2 198.3,636.4 196.4,638.7 194.2,641.0 191.6,643.5 188.7,645.9 185.5,648.4 182.0,651.0 178.1,653.7 173.7,656.5 168.7,659.5 161.8,663.5 154.9,667.3 149.7,670.0 145.1,672.3 140.8,674.3 136.7,676.0 132.9,677.4 129.3,678.6 125.9,679.5 122.7,680.2 119.8,680.7 117.0,680.9 114.5,680.8 112.2,680.5 110.2,680.0 108.4,679.2 106.8,678.0 105.4,676.6 103.9,674.3 102.7,671.9 102.2,669.9 102.1,667.9 102.3,665.9 102.9,663.9 103.8,661.8 105.1,659.6 106.7,657.4 108.6,655.1 110.8,652.8 113.4,650.3 116.3,647.9 119.5,645.4 123.0,642.8 126.9,640.1 131.3,637.3 136.3,634.3 143.2,630.3 150.1,626.5 155.3,623.8 159.9,621.5 164.2,619.5 168.3,617.8 172.1,616.4 175.7,615.2 179.1,614.3 182.3,613.6 185.2,613.1 188.0,612.9 190.5,613.0 192.8,613.3 194.8,613.8 196.6,614.6 198.2,615.8 199.6,617.2 201.1,619.5" fill="#fff" stroke="#1a1a1a" stroke-width="1.2" stroke-linejoin="round" />
<polygon points="197.8,621.5 198.7,623.4 199.0,625.0 199.0,626.6 198.7,628.2 198.0,629.9 197.1,631.7 195.8,633.6 194.3,635.5 192.4,637.5 190.3,639.6 187.9,641.7 185.2,643.9 182.2,646.2 178.9,648.5 175.2,650.9 171.2,653.5 166.5,656.2 160.2,659.9 153.8,663.4 149.0,666.0 144.7,668.1 140.8,670.0 137.0,671.6 133.5,673.0 130.3,674.2 127.2,675.1 124.3,675.9 121.6,676.4 119.2,676.8 117.0,676.9 114.9,676.8 113.1,676.4 111.6,675.9 110.2,675.0 109.0,673.9 107.8,672.1 106.9,670.2 106.6,668.6 106.6,667.0 106.9,665.4 107.6,663.7 108.5,661.9 109.8,660.0 111.3,658.1 113.2,656.1 115.3,654.0 117.7,651.9 120.4,649.7 123.4,647.4 126.7,645.1 130.4,642.7 134.4,640.1 139.1,637.4 145.4,633.7 151.8,630.2 156.6,627.6 160.9,625.5 164.8,623.6 168.6,622.0 172.1,620.6 175.3,619.4 178.4,618.5 181.3,617.7 184.0,617.2 186.4,616.8 188.6,616.7 190.7,616.8 192.5,617.2 194.0,617.7 195.4,618.6 196.6,619.7 197.8,621.5" fill="none" stroke="#1a1a1a" stroke-width="1.0" stroke-linejoin="round" />
<path d="M112,668 L118,657 L126,650.5 L133,641.5 L146,636.5 L152,631.5 L160,626 L168,623.5 Q180,617.5 190,620.5 Q197.5,624 196,630.5 L191.5,638 L181,646 L172.5,647 L168,643 L160,648.5 L160.5,656 L166,657.5 L158.5,664.5 L146,664 L137,668.5 L126,670.5 L118,674 L110,672 Z" fill="none" stroke="#1a1a1a" stroke-width="1.2" stroke-linejoin="round" stroke-linecap="round" />
<polygon points="128.7,646 137.8,641.2 140.8,646.2 131.8,651.6" fill="none" stroke="#1a1a1a" stroke-width="1.2" stroke-linejoin="round" />
<polyline points="129.89999999999998,646.8 137.4,642.8000000000001 139.60000000000002,646.0" fill="none" stroke="#444" stroke-width="0.8" stroke-linejoin="round" />
<polygon points="123.6,657 132.2,652.6 135,658.4 126.4,663.2" fill="none" stroke="#1a1a1a" stroke-width="1.2" stroke-linejoin="round" />
<polyline points="124.8,657.8 131.79999999999998,654.2 133.8,658.1999999999999" fill="none" stroke="#444" stroke-width="0.8" stroke-linejoin="round" />
<polygon points="138.4,650.6 142.6,648.4 144,654.4 139.8,656.6" fill="none" stroke="#1a1a1a" stroke-width="1.2" stroke-linejoin="round" />
<polyline points="139.6,651.4 142.2,650.0 142.8,654.1999999999999" fill="none" stroke="#444" stroke-width="0.8" stroke-linejoin="round" />
<rect x="148" y="658.2" width="12" height="4.4" rx="2.2" fill="none" stroke="#1a1a1a" stroke-width="1.2" transform="rotate(-22 154 660.4)"/>
<rect x="150.6" y="642.2" width="8.6" height="3" fill="none" stroke="#1a1a1a" stroke-width="1.1" transform="rotate(-28 155 643.7)"/>
<polygon points="109.8,668.6 119.6,663.4 121.4,666.6 111.6,672" fill="none" stroke="#1a1a1a" stroke-width="1.2" stroke-linejoin="round" />
<line x1="112.5" y1="666.5" x2="120.5" y2="662.3" stroke="#1a1a1a" stroke-width="0.8" />
<path d="M126,650.5 L128.5,656 M133,641.5 L135.5,646.5 M141,646.5 L146,644 L147.5,648.5 L143.5,651 M144.5,655 L149,653 L151,657.5 M137,668.5 L135.5,663.5 L146,658.5" fill="none" stroke="#1a1a1a" stroke-width="0.9" stroke-linejoin="round" stroke-linecap="round" />
<ellipse cx="158.8" cy="634.2" rx="6.2" ry="4.6" fill="none" stroke="#1a1a1a" stroke-width="1.1" transform="rotate(-25 158.8 634.2)" />
<ellipse cx="158.8" cy="634.2" rx="4" ry="2.8" fill="#444" stroke="#1a1a1a" stroke-width="1.2" transform="rotate(-25 158.8 634.2)" />
<path d="M152.6,636 Q150,640.5 154.5,642 M165,632 Q172,628 180,629.5" fill="none" stroke="#1a1a1a" stroke-width="1.0" stroke-linejoin="round" stroke-linecap="round" />
<path d="M166,629 Q172,621.5 184,621.5 Q194,622.5 193,629 L189,636 L180,643 L173.5,644 L170,639.5 Q176,634 184,633.5" fill="none" stroke="#1a1a1a" stroke-width="1.0" stroke-linejoin="round" stroke-linecap="round" />
<line x1="187.5" y1="620.6" x2="187.5" y2="635.6" stroke="#1a1a1a" stroke-width="0.8" />
<path d="M172,641 Q178,641 183,637.5" fill="none" stroke="#1a1a1a" stroke-width="0.8" stroke-linejoin="round" stroke-linecap="round" />
<ellipse cx="108.6" cy="673.4" rx="1.5" ry="1.3" fill="none" stroke="#1a1a1a" stroke-width="1.0" />
<ellipse cx="116.8" cy="660" rx="1.5" ry="1.3" fill="none" stroke="#1a1a1a" stroke-width="1.0" />
<ellipse cx="124.6" cy="648.6" rx="1.5" ry="1.3" fill="none" stroke="#1a1a1a" stroke-width="1.0" />
<ellipse cx="134.6" cy="638.6" rx="1.5" ry="1.3" fill="none" stroke="#1a1a1a" stroke-width="1.0" />
<ellipse cx="146.8" cy="632.4" rx="1.5" ry="1.3" fill="none" stroke="#1a1a1a" stroke-width="1.0" />
<ellipse cx="159" cy="624.4" rx="1.5" ry="1.3" fill="none" stroke="#1a1a1a" stroke-width="1.0" />
<ellipse cx="171" cy="619.4" rx="1.5" ry="1.3" fill="none" stroke="#1a1a1a" stroke-width="1.0" />
<ellipse cx="183.6" cy="617.6" rx="1.5" ry="1.3" fill="none" stroke="#1a1a1a" stroke-width="1.0" />
<ellipse cx="197.4" cy="627.2" rx="1.5" ry="1.3" fill="none" stroke="#1a1a1a" stroke-width="1.0" />
<ellipse cx="193" cy="637.4" rx="1.5" ry="1.3" fill="none" stroke="#1a1a1a" stroke-width="1.0" />
<ellipse cx="183.4" cy="647.6" rx="1.5" ry="1.3" fill="none" stroke="#1a1a1a" stroke-width="1.0" />
<ellipse cx="171" cy="654.6" rx="1.5" ry="1.3" fill="none" stroke="#1a1a1a" stroke-width="1.0" />
<ellipse cx="160.4" cy="664.4" rx="1.5" ry="1.3" fill="none" stroke="#1a1a1a" stroke-width="1.0" />
<ellipse cx="146.6" cy="668.4" rx="1.5" ry="1.3" fill="none" stroke="#1a1a1a" stroke-width="1.0" />
<ellipse cx="133" cy="672.8" rx="1.5" ry="1.3" fill="none" stroke="#1a1a1a" stroke-width="1.0" />
<ellipse cx="120.4" cy="676.4" rx="1.5" ry="1.3" fill="none" stroke="#1a1a1a" stroke-width="1.0" />
<ellipse cx="145.6" cy="657.2" rx="1.5" ry="1.3" fill="none" stroke="#1a1a1a" stroke-width="1.0" />
<ellipse cx="164.4" cy="650.2" rx="1.5" ry="1.3" fill="none" stroke="#1a1a1a" stroke-width="1.0" />
<ellipse cx="176" cy="636.2" rx="1.5" ry="1.3" fill="none" stroke="#1a1a1a" stroke-width="1.0" />
<ellipse cx="181.6" cy="631.4" rx="1.5" ry="1.3" fill="none" stroke="#1a1a1a" stroke-width="1.0" />
<polyline points="118,685.4 118.6,688.4" fill="none" stroke="#1a1a1a" stroke-width="1.0" stroke-linejoin="round" />
<polyline points="136,682.4 136.6,685.4" fill="none" stroke="#1a1a1a" stroke-width="1.0" stroke-linejoin="round" />
<polyline points="150,676.3 150.6,679.3" fill="none" stroke="#1a1a1a" stroke-width="1.0" stroke-linejoin="round" />
<polyline points="176,661.3 176.6,664.3" fill="none" stroke="#1a1a1a" stroke-width="1.0" stroke-linejoin="round" />
<path d="M103.7,677.6 L104.6,683.2 Q109.5,690 111.2,700 L112.4,726.5 L114.4,789.6" fill="none" stroke="#1a1a1a" stroke-width="1.1" stroke-linejoin="round" stroke-linecap="round" />
<path d="M202.6,631 L203.6,641 L207.5,640 L212.5,635 L225,638.8 L232.5,636 L235,640 L252.5,657.5 L253.8,663.5" fill="none" stroke="#1a1a1a" stroke-width="1.1" stroke-linejoin="round" stroke-linecap="round" />
<path d="M207.5,640 Q211,644.5 220,643.5 Q228,642.5 235,640" fill="none" stroke="#1a1a1a" stroke-width="0.8" stroke-linejoin="round" stroke-linecap="round" />
<path d="M250,657.8 Q205,681 160,705 L147.5,710" fill="none" stroke="#1a1a1a" stroke-width="1.0" stroke-linejoin="round" stroke-linecap="round" />
<path d="M253.8,663.6 L201.3,693.8 Q155,717 112.4,727" fill="none" stroke="#1a1a1a" stroke-width="1.1" stroke-linejoin="round" stroke-linecap="round" />
<path d="M201.3,696 Q155,720 113,729.6" fill="none" stroke="#1a1a1a" stroke-width="1.0" stroke-linejoin="round" stroke-linecap="round" />
<polyline points="201.3,693.8 202.3,701.3 252.6,668.4 253.8,663.6" fill="none" stroke="#1a1a1a" stroke-width="1" stroke-linejoin="round" />
<path d="M182.5,709 L182.5,731 Q193,741 195,753 Q196,764 183.8,776" fill="none" stroke="#1a1a1a" stroke-width="1.1" stroke-linejoin="round" stroke-linecap="round" />
<path d="M114.4,789.6 Q120,778 140,762.8 Q160,749.5 182.5,735.5" fill="none" stroke="#1a1a1a" stroke-width="1.1" stroke-linejoin="round" stroke-linecap="round" />
<path d="M114.4,789.6 Q116.5,795.5 122.5,797.4 Q150,794 184,775.6" fill="none" stroke="#1a1a1a" stroke-width="1.1" stroke-linejoin="round" stroke-linecap="round" />
<path d="M120,797.2 L155,826 Q158.5,829.5 163,827.5 L175,822.5 Q186.5,817 186.3,808 L183.8,776" fill="none" stroke="#1a1a1a" stroke-width="1.1" stroke-linejoin="round" stroke-linecap="round" />
<line x1="160.2" y1="719" x2="160.2" y2="739.5" stroke="#1a1a1a" stroke-width="0.9" />
<line x1="162.4" y1="719" x2="162.4" y2="739.5" stroke="#1a1a1a" stroke-width="1.3" />
<line x1="164.4" y1="719" x2="164.4" y2="739.5" stroke="#1a1a1a" stroke-width="0.7" />
<line x1="166.2" y1="719" x2="166.2" y2="739.5" stroke="#1a1a1a" stroke-width="0.9" />
<polyline points="166.2,739.5 156.5,746 156.5,743" fill="none" stroke="#1a1a1a" stroke-width="1.0" stroke-linejoin="round" />
<line x1="160" y1="739.5" x2="156.5" y2="743" stroke="#1a1a1a" stroke-width="0.8" />
<line x1="104.5" y1="685" x2="147.5" y2="710" stroke="#1a1a1a" stroke-width="1.0" stroke-dasharray="2.6 2"/>
<line x1="201.3" y1="666" x2="201.3" y2="693" stroke="#1a1a1a" stroke-width="1.0" stroke-dasharray="2.6 2"/>
<line x1="199.8" y1="662.5" x2="200.5" y2="664.5" stroke="#1a1a1a" stroke-width="1.0" />
<line x1="202.8" y1="661.5" x2="203.2" y2="663.8" stroke="#1a1a1a" stroke-width="1.0" />
<ellipse cx="146.2" cy="751" rx="3" ry="2.6" fill="none" stroke="#1a1a1a" stroke-width="1.0" stroke-dasharray="2 1.6"/>
<polyline points="146.2,754.5 146.2,775 192.5,748.8" fill="none" stroke="#1a1a1a" stroke-width="1.0" stroke-linejoin="round" stroke-dasharray="2.6 2"/>
<line x1="118.8" y1="806" x2="152.5" y2="785" stroke="#1a1a1a" stroke-width="1.0" stroke-dasharray="2.6 2"/>
<line x1="152" y1="782.5" x2="153" y2="786" stroke="#1a1a1a" stroke-width="0.8" />
<line x1="150" y1="783.5" x2="151" y2="787" stroke="#1a1a1a" stroke-width="0.8" />
</g>
<line x1="113.8" y1="608" x2="113.8" y2="664" stroke="#333" stroke-width="1.0" />
<line x1="121.8" y1="614" x2="121.8" y2="669" stroke="#333" stroke-width="1.0" />
<polyline points="155,827.5 148.8,848.8 178.8,866 182.5,862.5" fill="none" stroke="#1a1a1a" stroke-width="1.3" stroke-linejoin="round" />
<line x1="161.3" y1="859" x2="158.8" y2="866" stroke="#1a1a1a" stroke-width="1.3" />
<line x1="195" y1="846" x2="207.5" y2="818.8" stroke="#1a1a1a" stroke-width="1.0" />
<g transform="translate(79.3 669.2) rotate(18)">
<polygon points="-6,-3 -1.5,-4.2 -1.5,4.2 -6,3" fill="#ddd" stroke="#1a1a1a" stroke-width="1.1" stroke-linejoin="round" />
<ellipse cx="-5.2" cy="0" rx="1.8" ry="3.6" fill="#fff" stroke="#1a1a1a" stroke-width="1" />
<polyline points="-1.5,-2 6,-2 6,2 -1.5,2" fill="#fff" stroke="#1a1a1a" stroke-width="1" stroke-linejoin="round" />
<line x1="0.5" y1="-2" x2="0.5" y2="2" stroke="#1a1a1a" stroke-width="0.8" />
<line x1="2.3" y1="-2" x2="2.3" y2="2" stroke="#1a1a1a" stroke-width="0.8" />
<line x1="4.1" y1="-2" x2="4.1" y2="2" stroke="#1a1a1a" stroke-width="0.8" />
<ellipse cx="-1.4" cy="0" rx="1.3" ry="4.6" fill="none" stroke="#1a1a1a" stroke-width="1" />
</g>
<g transform="translate(102.4 816.8) rotate(18)">
<polygon points="-6,-3 -1.5,-4.2 -1.5,4.2 -6,3" fill="#ddd" stroke="#1a1a1a" stroke-width="1.1" stroke-linejoin="round" />
<ellipse cx="-5.2" cy="0" rx="1.8" ry="3.6" fill="#fff" stroke="#1a1a1a" stroke-width="1" />
<polyline points="-1.5,-2 6,-2 6,2 -1.5,2" fill="#fff" stroke="#1a1a1a" stroke-width="1" stroke-linejoin="round" />
<line x1="0.5" y1="-2" x2="0.5" y2="2" stroke="#1a1a1a" stroke-width="0.8" />
<line x1="2.3" y1="-2" x2="2.3" y2="2" stroke="#1a1a1a" stroke-width="0.8" />
<line x1="4.1" y1="-2" x2="4.1" y2="2" stroke="#1a1a1a" stroke-width="0.8" />
<ellipse cx="-1.4" cy="0" rx="1.3" ry="4.6" fill="none" stroke="#1a1a1a" stroke-width="1" />
</g>
<ellipse cx="90.4" cy="676.2" rx="3.4" ry="4.9" fill="none" stroke="#1a1a1a" stroke-width="1.2" transform="rotate(15 90.4 676.2)" />
<ellipse cx="90.9" cy="676.2" rx="1.6" ry="2.7" fill="none" stroke="#1a1a1a" stroke-width="1.0" transform="rotate(15 90.9 676.2)" />
<ellipse cx="114.5" cy="807.8" rx="3.4" ry="4.9" fill="none" stroke="#1a1a1a" stroke-width="1.2" transform="rotate(15 114.5 807.8)" />
<ellipse cx="115.0" cy="807.8" rx="1.6" ry="2.7" fill="none" stroke="#1a1a1a" stroke-width="1.0" transform="rotate(15 115.0 807.8)" />
<line x1="93.5" y1="677" x2="102.5" y2="683" stroke="#1a1a1a" stroke-width="1.0" />
<line x1="48" y1="691" x2="75.2" y2="672.4" stroke="#1a1a1a" stroke-width="1.0" />
<line x1="68.2" y1="705.3" x2="88.3" y2="680.5" stroke="#1a1a1a" stroke-width="1.0" />
<line x1="94.7" y1="780.6" x2="111.4" y2="804.3" stroke="#1a1a1a" stroke-width="1.0" />
<line x1="72.2" y1="791.6" x2="97.3" y2="813.5" stroke="#1a1a1a" stroke-width="1.0" />
<rect x="-15.5" y="-5.7" width="31" height="11.4" rx="5.7" fill="#fff" stroke="#1a1a1a" stroke-width="1.8" transform="translate(300.3 565.2) rotate(-27)"/>
<rect x="-15.5" y="-5.7" width="31" height="11.4" rx="5.7" fill="#fff" stroke="#1a1a1a" stroke-width="0.8" transform="translate(300.2 563.6) rotate(-27)"/>
<line x1="285.6" y1="563.4" x2="285.8" y2="569.8" stroke="#1a1a1a" stroke-width="1.1" />
<line x1="314.5" y1="554.6" x2="314.7" y2="560.8" stroke="#1a1a1a" stroke-width="1.1" />
<rect x="-15.5" y="-5.7" width="31" height="11.4" rx="5.7" fill="#fff" stroke="#1a1a1a" stroke-width="1.2" transform="translate(300 559) rotate(-27)"/>
<ellipse cx="298.2" cy="559.2" rx="1.7" ry="1.1" fill="none" stroke="#1a1a1a" stroke-width="0.9" />
<line x1="338" y1="538" x2="315.6" y2="555.6" stroke="#1a1a1a" stroke-width="1.0" />
<ellipse cx="298.7" cy="581.8" rx="5.4" ry="3.4" fill="none" stroke="#1a1a1a" stroke-width="1.2" />
<ellipse cx="298.7" cy="581.7" rx="2.8" ry="1.6" fill="none" stroke="#1a1a1a" stroke-width="1.0" />
<line x1="338.8" y1="565" x2="304.6" y2="579.8" stroke="#1a1a1a" stroke-width="1.0" />
<polyline points="296.7,589.6 296.7,598.6 300.5,598.6 300.5,589.6" fill="#fff" stroke="#1a1a1a" stroke-width="1.1" stroke-linejoin="round" />
<path d="M296.7,589.6 Q298.6,588 300.5,589.6" fill="none" stroke="#1a1a1a" stroke-width="1.0" stroke-linejoin="round" stroke-linecap="round" />
<line x1="296.7" y1="591.4" x2="300.5" y2="590.6999999999999" stroke="#1a1a1a" stroke-width="0.9" />
<line x1="296.7" y1="593.3" x2="300.5" y2="592.5999999999999" stroke="#1a1a1a" stroke-width="0.9" />
<line x1="296.7" y1="595.2" x2="300.5" y2="594.5" stroke="#1a1a1a" stroke-width="0.9" />
<line x1="296.7" y1="597.1" x2="300.5" y2="596.4" stroke="#1a1a1a" stroke-width="0.9" />
<polyline points="293.6,600 293.8,604.2 296,606.2 301,606.2 303.2,604.2 303.4,600" fill="#ddd" stroke="#1a1a1a" stroke-width="1.1" stroke-linejoin="round" />
<line x1="296.2" y1="602" x2="296.2" y2="606" stroke="#1a1a1a" stroke-width="0.8" />
<line x1="300.8" y1="602" x2="300.8" y2="606" stroke="#1a1a1a" stroke-width="0.8" />
<ellipse cx="298.4" cy="599.6" rx="5.6" ry="2.5" fill="#fff" stroke="#1a1a1a" stroke-width="1.2" />
<rect x="297.1" y="596.4" width="3" height="3" fill="#fff" stroke="none"/>
<line x1="296.7" y1="596" x2="296.7" y2="599.4" stroke="#1a1a1a" stroke-width="1.1" />
<line x1="300.5" y1="596" x2="300.5" y2="599.4" stroke="#1a1a1a" stroke-width="1.1" />
<line x1="337.5" y1="585" x2="304.6" y2="598.6" stroke="#1a1a1a" stroke-width="1.0" />
<rect x="311.3" y="631.3" width="5" height="17.5" rx="2.3" fill="#fff" stroke="#1a1a1a" stroke-width="1.1"/>
<line x1="366.3" y1="597.5" x2="316.6" y2="635" stroke="#1a1a1a" stroke-width="1.0" />
<line x1="313.8" y1="651" x2="313.8" y2="659" stroke="#333" stroke-width="1.0" />
<ellipse cx="317.4" cy="663.6" rx="7.3" ry="9.6" fill="#fff" stroke="#1a1a1a" stroke-width="1.1" transform="rotate(-18 317.4 663.6)" />
<path d="M316.5,653.8 Q323,653 325.6,660 M321.6,675.6 Q326.5,672 326.2,665.4" fill="none" stroke="#1a1a1a" stroke-width="1" stroke-linejoin="round" stroke-linecap="round" />
<ellipse cx="314.6" cy="665" rx="7.3" ry="9.6" fill="#fff" stroke="#1a1a1a" stroke-width="1.0" transform="rotate(-18 314.6 665)" />
<ellipse cx="311.9" cy="666.4" rx="7.3" ry="9.6" fill="#fff" stroke="#1a1a1a" stroke-width="1.5" transform="rotate(-18 311.9 666.4)" />
<ellipse cx="315.0" cy="659.3" rx="1.7" ry="2.1" fill="#fff" stroke="#1a1a1a" stroke-width="1.3" />
<ellipse cx="317.3" cy="670.5" rx="1.7" ry="2.1" fill="#fff" stroke="#1a1a1a" stroke-width="1.3" />
<ellipse cx="308.8" cy="673.5" rx="1.7" ry="2.1" fill="#fff" stroke="#1a1a1a" stroke-width="1.3" />
<ellipse cx="306.5" cy="662.3" rx="1.7" ry="2.1" fill="#fff" stroke="#1a1a1a" stroke-width="1.3" />
<ellipse cx="311.7" cy="666.6" rx="3.6" ry="4.8" fill="#444" stroke="#1a1a1a" stroke-width="1.2" transform="rotate(-18 311.7 666.6)" />
<path d="M308.6,662.8 L315,670.4 M308.4,670 L315.2,663" fill="none" stroke="#eee" stroke-width="1.1" stroke-linejoin="round" stroke-linecap="round" />
<line x1="351.3" y1="698.8" x2="320.5" y2="675" stroke="#1a1a1a" stroke-width="1.0" />
<ellipse cx="335.3" cy="652.2" rx="6.6" ry="9" fill="none" stroke="#1a1a1a" stroke-width="1.1" transform="rotate(-18 335.3 652.2)" />
<ellipse cx="333.3" cy="653" rx="6.6" ry="9" fill="none" stroke="#1a1a1a" stroke-width="1.1" transform="rotate(-18 333.3 653)" />
<ellipse cx="334.3" cy="652.6" rx="4.8" ry="7" fill="none" stroke="#1a1a1a" stroke-width="1.0" transform="rotate(-18 334.3 652.6)" />
<line x1="375" y1="683.8" x2="341.4" y2="659" stroke="#1a1a1a" stroke-width="1.0" />
<g transform="translate(342.5 645.2) rotate(-28.8)">
<ellipse cx="0.0" cy="0" rx="1.2" ry="2.9" fill="none" stroke="#222" stroke-width="1.0" />
<ellipse cx="2.05" cy="0" rx="1.2" ry="2.9" fill="none" stroke="#222" stroke-width="1.0" />
<ellipse cx="4.1" cy="0" rx="1.2" ry="2.9" fill="none" stroke="#222" stroke-width="1.0" />
<ellipse cx="6.1499999999999995" cy="0" rx="1.2" ry="2.9" fill="none" stroke="#222" stroke-width="1.0" />
<ellipse cx="8.2" cy="0" rx="1.2" ry="2.9" fill="none" stroke="#222" stroke-width="1.0" />
<ellipse cx="10.25" cy="0" rx="1.2" ry="2.9" fill="none" stroke="#222" stroke-width="1.0" />
<ellipse cx="12.299999999999999" cy="0" rx="1.2" ry="2.9" fill="none" stroke="#222" stroke-width="1.0" />
<ellipse cx="14.349999999999998" cy="0" rx="1.2" ry="2.9" fill="none" stroke="#222" stroke-width="1.0" />
<ellipse cx="16.4" cy="0" rx="1.2" ry="2.9" fill="none" stroke="#222" stroke-width="1.0" />
<ellipse cx="18.45" cy="0" rx="1.2" ry="2.9" fill="none" stroke="#222" stroke-width="1.0" />
<ellipse cx="20.5" cy="0" rx="1.2" ry="2.9" fill="none" stroke="#222" stroke-width="1.0" />
<ellipse cx="22.549999999999997" cy="0" rx="1.2" ry="2.9" fill="none" stroke="#222" stroke-width="1.0" />
<ellipse cx="24.599999999999998" cy="0" rx="1.2" ry="2.9" fill="none" stroke="#222" stroke-width="1.0" />
<ellipse cx="26.65" cy="0" rx="1.2" ry="2.9" fill="none" stroke="#222" stroke-width="1.0" />
</g>
<line x1="405" y1="666.3" x2="363.8" y2="638.8" stroke="#1a1a1a" stroke-width="1.0" />
<g transform="translate(290.6 680) rotate(-26.5)"><rect x="-11.6" y="-2.2" width="23.2" height="4.4" rx="2.1" fill="#fff" stroke="#1a1a1a" stroke-width="1.1"/></g>
<line x1="323.8" y1="715" x2="293.8" y2="681.8" stroke="#1a1a1a" stroke-width="1.0" />
<g transform="translate(372.5 627.5) rotate(-30.9)">
<path d="M101.7,-3.1 L114.5,-3.1 A1.30,3.1 0 0 1 114.5,3.1 L101.7,3.1 A1.30,3.1 0 0 1 101.7,-3.1 Z" fill="#fff" stroke="#1a1a1a" stroke-width="1.0"/>
<line x1="103.2" y1="-3.1" x2="103.8" y2="3.1" stroke="#1a1a1a" stroke-width="0.9" />
<line x1="104.9" y1="-3.1" x2="105.5" y2="3.1" stroke="#1a1a1a" stroke-width="0.9" />
<line x1="106.60000000000001" y1="-3.1" x2="107.2" y2="3.1" stroke="#1a1a1a" stroke-width="0.9" />
<line x1="108.3" y1="-3.1" x2="108.89999999999999" y2="3.1" stroke="#1a1a1a" stroke-width="0.9" />
<line x1="110.0" y1="-3.1" x2="110.6" y2="3.1" stroke="#1a1a1a" stroke-width="0.9" />
<line x1="111.7" y1="-3.1" x2="112.3" y2="3.1" stroke="#1a1a1a" stroke-width="0.9" />
<line x1="113.4" y1="-3.1" x2="114.0" y2="3.1" stroke="#1a1a1a" stroke-width="0.9" />
<path d="M93.5,-2.5 L101.7,-2.5 A1.05,2.5 0 0 1 101.7,2.5 L93.5,2.5 A1.05,2.5 0 0 1 93.5,-2.5 Z" fill="#fff" stroke="#1a1a1a" stroke-width="1.0"/>
<path d="M80.4,-4.5 L93.9,-4.5 A1.89,4.5 0 0 1 93.9,4.5 L80.4,4.5 A1.89,4.5 0 0 1 80.4,-4.5 Z" fill="#fff" stroke="#1a1a1a" stroke-width="1.0"/>
<line x1="80.4" y1="-2.8" x2="93.9" y2="-2.8" stroke="#444" stroke-width="0.6" />
<line x1="80.4" y1="-1" x2="93.9" y2="-1" stroke="#444" stroke-width="0.6" />
<line x1="80.4" y1="0.8" x2="93.9" y2="0.8" stroke="#444" stroke-width="0.6" />
<line x1="80.4" y1="2.6" x2="93.9" y2="2.6" stroke="#444" stroke-width="0.6" />
<path d="M64,-4.2 L80.4,-4.2 A1.76,4.2 0 0 1 80.4,4.2 L64,4.2 A1.76,4.2 0 0 1 64,-4.2 Z" fill="#fff" stroke="#1a1a1a" stroke-width="1.0"/>
<path d="M45.6,-5.4 L64.7,-5.4 A2.27,5.4 0 0 1 64.7,5.4 L45.6,5.4 A2.27,5.4 0 0 1 45.6,-5.4 Z" fill="#fff" stroke="#1a1a1a" stroke-width="1.0"/>
<path d="M40,-5.7 L45.6,-5.7 A2.39,5.7 0 0 1 45.6,5.7 L40,5.7 A2.39,5.7 0 0 1 40,-5.7 Z" fill="#fff" stroke="#1a1a1a" stroke-width="1.0"/>
<path d="M30,-4 L40,-4 A1.68,4 0 0 1 40,4 L30,4 A1.68,4 0 0 1 30,-4 Z" fill="#fff" stroke="#1a1a1a" stroke-width="1.0"/>
<path d="M25.5,-6.3 L31,-6.3 A2.65,6.3 0 0 1 31,6.3 L25.5,6.3 A2.65,6.3 0 0 1 25.5,-6.3 Z" fill="#fff" stroke="#1a1a1a" stroke-width="1.0"/>
<path d="M10,-4.4 L26,-6.2 A2.6,6.2 0 0 1 26,6.2 L10,4.4 A1.9,4.4 0 0 1 10,-4.4 Z" fill="#fff" stroke="#1a1a1a" stroke-width="1.0"/>
<line x1="10.5" y1="-3.08" x2="26.5" y2="-4.34" stroke="#333" stroke-width="0.8" />
<line x1="10.5" y1="-1.54" x2="26.5" y2="-2.17" stroke="#333" stroke-width="0.8" />
<line x1="10.5" y1="0.0" x2="26.5" y2="0.0" stroke="#333" stroke-width="0.8" />
<line x1="10.5" y1="1.54" x2="26.5" y2="2.17" stroke="#333" stroke-width="0.8" />
<line x1="10.5" y1="3.08" x2="26.5" y2="4.34" stroke="#333" stroke-width="0.8" />
<path d="M0,-3.4 L11,-3.4 A1.43,3.4 0 0 1 11,3.4 L0,3.4 A1.43,3.4 0 0 1 0,-3.4 Z" fill="#fff" stroke="#1a1a1a" stroke-width="1.0"/>
<ellipse cx="0" cy="0" rx="1.5" ry="3.4" fill="none" stroke="#1a1a1a" stroke-width="1.1" />
<line x1="47" y1="2.8" x2="63" y2="2.8" stroke="#888" stroke-width="0.6" />
</g>
<line x1="443.8" y1="640" x2="421.3" y2="607.5" stroke="#1a1a1a" stroke-width="1.0" />
<ellipse cx="477.9" cy="559.8" rx="5.3" ry="7.4" fill="none" stroke="#1a1a1a" stroke-width="1.2" transform="rotate(-24 477.9 559.8)" />
<ellipse cx="477.9" cy="559.8" rx="2.8" ry="4.2" fill="none" stroke="#1a1a1a" stroke-width="1.0" transform="rotate(-24 477.9 559.8)" />
<line x1="481.3" y1="622.5" x2="479" y2="568" stroke="#1a1a1a" stroke-width="1.0" />
<path d="M502,538.6 Q508.6,538.5 509.2,545.5 Q509,549.5 506.6,551" fill="#fff" stroke="#1a1a1a" stroke-width="1.1" stroke-linejoin="round" stroke-linecap="round" />
<ellipse cx="496.6" cy="550.2" rx="9.6" ry="17.6" fill="#fff" stroke="#1a1a1a" stroke-width="1.0" transform="rotate(-26 496.6 550.2)" />
<ellipse cx="495.6" cy="550.6" rx="9.4" ry="17.4" fill="#fff" stroke="#1a1a1a" stroke-width="3.0" transform="rotate(-26 495.6 550.6)" />
<ellipse cx="495.6" cy="550.6" rx="9.4" ry="17.4" fill="none" stroke="#fff" stroke-width="1.7" transform="rotate(-26 495.6 550.6)" stroke-dasharray="0.9 1.9"/>
<ellipse cx="496.8" cy="550.2" rx="6.4" ry="12.6" fill="#fff" stroke="#1a1a1a" stroke-width="2.4" transform="rotate(-26 496.8 550.2)" />
<ellipse cx="496.8" cy="550.2" rx="6.4" ry="12.6" fill="none" stroke="#fff" stroke-width="1.2" transform="rotate(-26 496.8 550.2)" stroke-dasharray="0.8 1.6"/>
<ellipse cx="497.6" cy="549.9" rx="3.9" ry="8.2" fill="none" stroke="#1a1a1a" stroke-width="1.1" transform="rotate(-26 497.6 549.9)" />
<ellipse cx="498" cy="549.8" rx="2.2" ry="5" fill="#777" stroke="#1a1a1a" stroke-width="1.2" transform="rotate(-26 498 549.8)" />
<line x1="508.3" y1="603.8" x2="499.8" y2="568.2" stroke="#1a1a1a" stroke-width="1.0" />
<ellipse cx="516" cy="537" rx="6" ry="9" fill="none" stroke="#1a1a1a" stroke-width="1.2" transform="rotate(-24 516 537)" />
<ellipse cx="516" cy="537" rx="3.2" ry="5.2" fill="none" stroke="#1a1a1a" stroke-width="1.0" transform="rotate(-24 516 537)" />
<line x1="533.3" y1="587.5" x2="519.3" y2="544.8" stroke="#1a1a1a" stroke-width="1.0" />
<ellipse cx="534.2" cy="526.8" rx="10" ry="14.4" fill="#fff" stroke="#1a1a1a" stroke-width="1.1" transform="rotate(-20 534.2 526.8)" />
<ellipse cx="530.6" cy="528.2" rx="10" ry="14.4" fill="#fff" stroke="#1a1a1a" stroke-width="1.2" transform="rotate(-20 530.6 528.2)" />
<ellipse cx="530.6" cy="528.2" rx="7.6" ry="11.2" fill="none" stroke="#1a1a1a" stroke-width="1.4" transform="rotate(-20 530.6 528.2)" />
<ellipse cx="530.6" cy="528.2" rx="4.8" ry="7.2" fill="none" stroke="#1a1a1a" stroke-width="1.0" transform="rotate(-20 530.6 528.2)" />
<ellipse cx="530.6" cy="528.2" rx="2.3" ry="3.5" fill="none" stroke="#1a1a1a" stroke-width="1.1" transform="rotate(-20 530.6 528.2)" />
<line x1="558.3" y1="572.5" x2="540.8" y2="540" stroke="#1a1a1a" stroke-width="1.0" />
<ellipse cx="553.3" cy="514.5" rx="9.6" ry="16" fill="none" stroke="#1a1a1a" stroke-width="1.9" transform="rotate(-21 553.3 514.5)" />
<line x1="579.5" y1="558.8" x2="562" y2="528.8" stroke="#1a1a1a" stroke-width="1.0" />
<ellipse cx="225" cy="721.6" rx="9.4" ry="12.8" fill="#fff" stroke="#1a1a1a" stroke-width="1.1" transform="rotate(-18 225 721.6)" />
<ellipse cx="222.6" cy="722.6" rx="9.6" ry="13" fill="#fff" stroke="#1a1a1a" stroke-width="1.6" transform="rotate(-18 222.6 722.6)" />
<ellipse cx="223.4" cy="722.2" rx="6.6" ry="9.6" fill="none" stroke="#1a1a1a" stroke-width="1.3" transform="rotate(-18 223.4 722.2)" />
<line x1="248.8" y1="762.5" x2="231.3" y2="734" stroke="#1a1a1a" stroke-width="1.0" />
<line x1="222.5" y1="723.6" x2="213" y2="729.2" stroke="#222" stroke-width="1.0" />
<ellipse cx="244.5" cy="710" rx="9.6" ry="13.2" fill="#fff" stroke="#1a1a1a" stroke-width="1.1" transform="rotate(-18 244.5 710)" />
<ellipse cx="240.8" cy="711.4" rx="10" ry="13.6" fill="#fff" stroke="#1a1a1a" stroke-width="1.6" transform="rotate(-18 240.8 711.4)" />
<ellipse cx="240.8" cy="711.4" rx="6.6" ry="9.4" fill="none" stroke="#1a1a1a" stroke-width="1.4" transform="rotate(-18 240.8 711.4)" />
<ellipse cx="240.6" cy="711.5" rx="3.6" ry="5.4" fill="none" stroke="#1a1a1a" stroke-width="1.0" transform="rotate(-18 240.6 711.5)" />
<line x1="248.5" y1="700.0" x2="252.2" y2="700.9" stroke="#1a1a1a" stroke-width="0.8" />
<line x1="248.5" y1="703.6" x2="252.2" y2="704.5" stroke="#1a1a1a" stroke-width="0.8" />
<line x1="248.5" y1="707.2" x2="252.2" y2="708.1" stroke="#1a1a1a" stroke-width="0.8" />
<line x1="248.5" y1="710.8" x2="252.2" y2="711.6999999999999" stroke="#1a1a1a" stroke-width="0.8" />
<line x1="248.5" y1="714.4" x2="252.2" y2="715.3" stroke="#1a1a1a" stroke-width="0.8" />
<line x1="248.5" y1="718.0" x2="252.2" y2="718.9" stroke="#1a1a1a" stroke-width="0.8" />
<line x1="248.5" y1="721.6" x2="252.2" y2="722.5" stroke="#1a1a1a" stroke-width="0.8" />
<line x1="275" y1="748" x2="250" y2="721.5" stroke="#1a1a1a" stroke-width="1.0" />
<ellipse cx="268.5" cy="695.4" rx="10.4" ry="15.2" fill="#fff" stroke="#222" stroke-width="2.4" transform="rotate(-16 268.5 695.4)" />
<ellipse cx="268.5" cy="695.4" rx="10.4" ry="15.2" fill="none" stroke="#fff" stroke-width="1.3" transform="rotate(-16 268.5 695.4)" stroke-dasharray="1 1.7"/>
<ellipse cx="265.2" cy="696.6" rx="10.6" ry="15.4" fill="#fff" stroke="#1a1a1a" stroke-width="1.2" transform="rotate(-16 265.2 696.6)" />
<ellipse cx="262.6" cy="697.6" rx="6.6" ry="9" fill="#fff" stroke="#1a1a1a" stroke-width="1.1" transform="rotate(-16 262.6 697.6)" />
<ellipse cx="259.6" cy="698.8" rx="4.6" ry="6" fill="#fff" stroke="#1a1a1a" stroke-width="1.2" transform="rotate(-16 259.6 698.8)" />
<ellipse cx="259.3" cy="698.9" rx="2.6" ry="3.6" fill="none" stroke="#1a1a1a" stroke-width="1.0" transform="rotate(-16 259.3 698.9)" />
<line x1="297.5" y1="731.3" x2="276.5" y2="709" stroke="#1a1a1a" stroke-width="1.0" />
<ellipse cx="213.8" cy="815.4" rx="8.8" ry="3.6" fill="#fff" stroke="#1a1a1a" stroke-width="1.2" />
<path d="M205,815.4 L205,817.8 A8.8,3.6 0 0 0 222.6,817.8 L222.6,815.4" fill="none" stroke="#1a1a1a" stroke-width="1.1" stroke-linejoin="round" stroke-linecap="round" />
<rect x="208.8" y="802" width="10" height="12.4" fill="#fff" stroke="none"/>
<path d="M208.6,813.4 Q213.8,816.4 219,813.4" fill="none" stroke="#1a1a1a" stroke-width="1.0" stroke-linejoin="round" stroke-linecap="round" />
<ellipse cx="213.8" cy="800.8" rx="5.2" ry="1.9" fill="#fff" stroke="#1a1a1a" stroke-width="1.1" />
<ellipse cx="213.8" cy="801" rx="3.3" ry="1.1" fill="#777" stroke="#1a1a1a" stroke-width="0.8" />
<line x1="208.6" y1="800.8" x2="208.6" y2="813.4" stroke="#1a1a1a" stroke-width="1.1" />
<line x1="219" y1="800.8" x2="219" y2="813.4" stroke="#1a1a1a" stroke-width="1.3" />
<line x1="217" y1="802.6" x2="217" y2="813.8" stroke="#888" stroke-width="0.6" />
<ellipse cx="213.3" cy="832.6" rx="7" ry="4.3" fill="none" stroke="#1a1a1a" stroke-width="1.4" />
<ellipse cx="213.3" cy="831.4" rx="6.4" ry="3.6" fill="none" stroke="#1a1a1a" stroke-width="1.0" />
<ellipse cx="213" cy="831.4" rx="3" ry="1.5" fill="#777" stroke="#222" stroke-width="1.6" />
<line x1="256.3" y1="826.3" x2="220.4" y2="832.3" stroke="#1a1a1a" stroke-width="1.0" />
<ellipse cx="213.8" cy="851.3" rx="5" ry="2.9" fill="none" stroke="#1a1a1a" stroke-width="1.0" />
<path d="M216.8,849.6 Q221.6,850.8 223.6,847.6 Q223.8,845.2 221,846 M215.6,843.6 Q218.6,841.4 219.6,844 Q219.6,846.4 217.4,847.8" fill="none" stroke="#1a1a1a" stroke-width="1.1" stroke-linejoin="round" stroke-linecap="round" />
<line x1="256" y1="852" x2="219" y2="851.3" stroke="#1a1a1a" stroke-width="1.0" />
<ellipse cx="214.5" cy="864.4" rx="6.2" ry="3.2" fill="#fff" stroke="#1a1a1a" stroke-width="1.2" />
<ellipse cx="214.5" cy="864.2" rx="3.2" ry="1.6" fill="#555" stroke="#1a1a1a" stroke-width="1.0" />
<polyline points="207.2,865.5 207.8,870.5 211.5,875.5 217.6,875.5 221.4,870.5 221.8,865.5" fill="#999" stroke="#1a1a1a" stroke-width="1.3" stroke-linejoin="round" />
<line x1="209.5" y1="867.5" x2="211.8" y2="875" stroke="#111" stroke-width="1.0" />
<line x1="212.8" y1="867.5" x2="213.6" y2="875" stroke="#111" stroke-width="1.0" />
<line x1="216.2" y1="867.5" x2="215.6" y2="875" stroke="#111" stroke-width="1.0" />
<line x1="219.4" y1="867.5" x2="218" y2="875" stroke="#111" stroke-width="1.0" />
<path d="M207.2,865.5 Q214.5,870.5 221.8,865.5" fill="none" stroke="#1a1a1a" stroke-width="1.1" stroke-linejoin="round" stroke-linecap="round" />
<line x1="256" y1="873.8" x2="222.5" y2="869.5" stroke="#1a1a1a" stroke-width="1.0" />
<ellipse cx="401.3" cy="764.6" rx="11.8" ry="17" fill="#fff" stroke="#1a1a1a" stroke-width="1.8" transform="rotate(-20 401.3 764.6)" />
<line x1="377.5" y1="777.5" x2="401" y2="764" stroke="#333" stroke-width="1.0" />
<line x1="423.8" y1="810" x2="408.8" y2="781.3" stroke="#1a1a1a" stroke-width="1.0" />
<ellipse cx="421.4" cy="752.6" rx="5.2" ry="7" fill="#fff" stroke="#1a1a1a" stroke-width="1.1" transform="rotate(-18 421.4 752.6)" />
<polyline points="414,748.6 419.3,745.8" fill="none" stroke="#1a1a1a" stroke-width="1" stroke-linejoin="round" />
<polyline points="418.6,761.6 423.6,759.4" fill="none" stroke="#1a1a1a" stroke-width="1" stroke-linejoin="round" />
<ellipse cx="416.6" cy="755" rx="5.2" ry="7" fill="#fff" stroke="#1a1a1a" stroke-width="1.2" transform="rotate(-18 416.6 755)" />
<ellipse cx="416.6" cy="755" rx="2.9" ry="4.2" fill="#fff" stroke="#1a1a1a" stroke-width="1.1" transform="rotate(-18 416.6 755)" />
<path d="M415.4,751.6 Q413.8,755 415.8,758.6" fill="none" stroke="#555" stroke-width="0.8" stroke-linejoin="round" stroke-linecap="round" />
<line x1="428.8" y1="768" x2="422.5" y2="760" stroke="#1a1a1a" stroke-width="1.0" />
<path d="M454.9,707.3 Q456,702.5 460.6,701.6 L465.7,703.7 L468.6,708.8 Q473,712 475.8,716.7 Q480.5,722 480.1,727.6 Q480.2,732.5 478.7,736.2 Q476.5,740.5 472.9,743.5 L467.1,747.8 L462.8,752.1 L458.5,749.2 L457,745.6 Q447,740 445.6,724 Q445.8,713 454.9,707.3 Z" fill="#fff" stroke="#1a1a1a" stroke-width="1.2" stroke-linejoin="round" stroke-linecap="round" />
<ellipse cx="459.5" cy="728" rx="13.4" ry="21.3" fill="none" stroke="#1a1a1a" stroke-width="1.0" transform="rotate(-18 459.5 728)" />
<path d="M466.4,705.9 Q471.5,711 473.2,719 Q475,727 474.2,733 Q473,740 468.5,745.5" fill="none" stroke="#1a1a1a" stroke-width="1.0" stroke-linejoin="round" stroke-linecap="round" />
<path d="M469.5,710.5 Q476.5,718.5 477.2,728 Q477,737 472,742.5" fill="none" stroke="#555" stroke-width="0.7" stroke-linejoin="round" stroke-linecap="round" />
<ellipse cx="460.6" cy="707.2" rx="1.9" ry="2.6" fill="none" stroke="#1a1a1a" stroke-width="1.1" transform="rotate(-18 460.6 707.2)" />
<ellipse cx="462.2" cy="748.4" rx="1.9" ry="2.6" fill="none" stroke="#1a1a1a" stroke-width="1.1" transform="rotate(-18 462.2 748.4)" />
<polygon points="442,725 454.9,717.3 466,727 464.4,738.4 452,746.5" fill="#fff" stroke="#fff" stroke-width="0.1" stroke-linejoin="round" />
<line x1="443.6" y1="724.3" x2="454.9" y2="717.4" stroke="#1a1a1a" stroke-width="1.1" />
<line x1="453.6" y1="745.2" x2="464.2" y2="738.5" stroke="#1a1a1a" stroke-width="1.1" />
<path d="M454.9,717.4 Q463.5,718.5 465.6,727.5 Q466.5,734 464.2,738.5" fill="none" stroke="#1a1a1a" stroke-width="1" stroke-linejoin="round" stroke-linecap="round" />
<path d="M454,723.2 L457.7,716.4 L459.2,721.2 Z" fill="none" stroke="#1a1a1a" stroke-width="1" stroke-linejoin="round" stroke-linecap="round" />
<ellipse cx="440.9" cy="739.1" rx="13.5" ry="18" fill="#fff" stroke="#1a1a1a" stroke-width="1.1" transform="rotate(-18 440.9 739.1)" />
<line x1="440.1" y1="721.6" x2="436.9" y2="722.9" stroke="#333" stroke-width="0.7" />
<line x1="444.2" y1="722.9" x2="441.0" y2="724.2" stroke="#333" stroke-width="0.7" />
<line x1="448.0" y1="725.7" x2="444.8" y2="727.0" stroke="#333" stroke-width="0.7" />
<line x1="451.2" y1="729.6" x2="448.0" y2="730.9" stroke="#333" stroke-width="0.7" />
<line x1="453.5" y1="734.3" x2="450.3" y2="735.6" stroke="#333" stroke-width="0.7" />
<line x1="454.7" y1="739.5" x2="451.5" y2="740.8" stroke="#333" stroke-width="0.7" />
<line x1="454.7" y1="744.6" x2="451.5" y2="745.9" stroke="#333" stroke-width="0.7" />
<line x1="453.5" y1="749.3" x2="450.3" y2="750.6" stroke="#333" stroke-width="0.7" />
<line x1="451.2" y1="753.0" x2="448.0" y2="754.3" stroke="#333" stroke-width="0.7" />
<ellipse cx="437.3" cy="740.6" rx="13.7" ry="18.2" fill="#fff" stroke="#1a1a1a" stroke-width="1.7" transform="rotate(-18 437.3 740.6)" />
<ellipse cx="437.8" cy="740.4" rx="11.8" ry="16" fill="none" stroke="#1a1a1a" stroke-width="1.0" transform="rotate(-18 437.8 740.4)" />
<ellipse cx="438.2" cy="740.2" rx="9.6" ry="13.6" fill="none" stroke="#1a1a1a" stroke-width="1.5" transform="rotate(-18 438.2 740.2)" />
<path d="M432.5,750.5 Q438,755 444,749.5 Q448.5,744 448,736" fill="none" stroke="#444" stroke-width="1.0" stroke-linejoin="round" stroke-linecap="round" />
<path d="M433,729.5 Q431,739 434.5,748.5" fill="none" stroke="#666" stroke-width="0.8" stroke-linejoin="round" stroke-linecap="round" />
<polyline points="463.8,751.3 472.5,770 445,788 443,783.8" fill="none" stroke="#1a1a1a" stroke-width="1.3" stroke-linejoin="round" />
<line x1="460.6" y1="780.6" x2="462.8" y2="786.4" stroke="#1a1a1a" stroke-width="1.3" />
<ellipse cx="490" cy="728.8" rx="3.4" ry="4.8" fill="none" stroke="#1a1a1a" stroke-width="1.3" transform="rotate(-18 490 728.8)" />
<ellipse cx="490.3" cy="728.8" rx="1.5" ry="2.6" fill="none" stroke="#1a1a1a" stroke-width="0.8" transform="rotate(-18 490.3 728.8)" />
<line x1="505.5" y1="762.5" x2="491.8" y2="733.5" stroke="#1a1a1a" stroke-width="1.0" />
<g transform="translate(506 718) rotate(-24)">
<polygon points="-9,-2.2 1,-2.2 1,2.2 -9,2.2" fill="#fff" stroke="#1a1a1a" stroke-width="1" stroke-linejoin="round" />
<line x1="-8" y1="-2.2" x2="-7.3" y2="2.2" stroke="#111" stroke-width="1.2" />
<line x1="-6.2" y1="-2.2" x2="-5.5" y2="2.2" stroke="#111" stroke-width="1.2" />
<line x1="-4.4" y1="-2.2" x2="-3.7" y2="2.2" stroke="#111" stroke-width="1.2" />
<line x1="-2.6" y1="-2.2" x2="-1.9000000000000001" y2="2.2" stroke="#111" stroke-width="1.2" />
<line x1="-0.8" y1="-2.2" x2="-0.10000000000000009" y2="2.2" stroke="#111" stroke-width="1.2" />
<polygon points="1,-4.4 6.4,-4.4 7.6,-2 7.6,2 6.4,4.4 1,4.4" fill="#ddd" stroke="#1a1a1a" stroke-width="1.1" stroke-linejoin="round" />
<ellipse cx="1" cy="0" rx="1.5" ry="4.6" fill="#fff" stroke="#1a1a1a" stroke-width="1" />
<line x1="3" y1="-1.6" x2="7.4" y2="-1.6" stroke="#1a1a1a" stroke-width="0.8" />
<line x1="3" y1="1.6" x2="7.4" y2="1.6" stroke="#1a1a1a" stroke-width="0.8" />
</g>
<line x1="525.8" y1="748.8" x2="510.8" y2="722.8" stroke="#1a1a1a" stroke-width="1.0" />
<ellipse cx="521.9000000000001" cy="689.7479999999999" rx="5" ry="6.7" fill="#fff" stroke="#1a1a1a" stroke-width="1.1" transform="rotate(-18 521.9000000000001 689.7479999999999)" />
<polyline points="516.6,684.5 519.8000000000001,683.348" fill="none" stroke="#1a1a1a" stroke-width="1.1" stroke-linejoin="round" />
<polyline points="520.8000000000001,697.3 524.0000000000001,696.1479999999999" fill="none" stroke="#1a1a1a" stroke-width="1.1" stroke-linejoin="round" />
<polygon points="516.6,684.6999999999999 519.8000000000001,683.5479999999999 524.0000000000001,695.948 520.8000000000001,697.1" fill="#fff"/>
<polyline points="516.6,684.5 519.8000000000001,683.348" fill="none" stroke="#1a1a1a" stroke-width="1.1" stroke-linejoin="round" />
<polyline points="520.8000000000001,697.3 524.0000000000001,696.1479999999999" fill="none" stroke="#1a1a1a" stroke-width="1.1" stroke-linejoin="round" />
<ellipse cx="518.7" cy="690.9" rx="5" ry="6.7" fill="#fff" stroke="#1a1a1a" stroke-width="1.3" transform="rotate(-18 518.7 690.9)" />
<ellipse cx="518.9000000000001" cy="690.9" rx="2.9" ry="4.1" fill="#fff" stroke="#1a1a1a" stroke-width="1.2" transform="rotate(-18 518.9000000000001 690.9)" />
<ellipse cx="519.0" cy="690.9" rx="1.2" ry="1.9" fill="none" stroke="#1a1a1a" stroke-width="0.9" transform="rotate(-18 519.0 690.9)" />
<ellipse cx="537.0" cy="680.988" rx="5" ry="6.7" fill="#fff" stroke="#1a1a1a" stroke-width="1.1" transform="rotate(-18 537.0 680.988)" />
<polyline points="530.6999999999999,676.1 534.9,674.5880000000001" fill="none" stroke="#1a1a1a" stroke-width="1.1" stroke-linejoin="round" />
<polyline points="534.9,688.9 539.1,687.388" fill="none" stroke="#1a1a1a" stroke-width="1.1" stroke-linejoin="round" />
<polygon points="530.6999999999999,676.3 534.9,674.788 539.1,687.1880000000001 534.9,688.7" fill="#fff"/>
<polyline points="530.6999999999999,676.1 534.9,674.5880000000001" fill="none" stroke="#1a1a1a" stroke-width="1.1" stroke-linejoin="round" />
<polyline points="534.9,688.9 539.1,687.388" fill="none" stroke="#1a1a1a" stroke-width="1.1" stroke-linejoin="round" />
<ellipse cx="532.8" cy="682.5" rx="5" ry="6.7" fill="#fff" stroke="#1a1a1a" stroke-width="1.3" transform="rotate(-18 532.8 682.5)" />
<ellipse cx="533.0" cy="682.5" rx="2.9" ry="4.1" fill="#fff" stroke="#1a1a1a" stroke-width="1.2" transform="rotate(-18 533.0 682.5)" />
<ellipse cx="533.0999999999999" cy="682.5" rx="1.2" ry="1.9" fill="none" stroke="#1a1a1a" stroke-width="0.9" transform="rotate(-18 533.0999999999999 682.5)" />
<line x1="480.5" y1="714" x2="517.6" y2="691.4" stroke="#222" stroke-width="1.0" />
<polyline points="523.2,698.8 526,702.7 544,692.6 542.3,688.7" fill="none" stroke="#1a1a1a" stroke-width="1.2" stroke-linejoin="round" />
<line x1="533.3" y1="655" x2="521.8" y2="682" stroke="#1a1a1a" stroke-width="1.0" />
<line x1="533.3" y1="655" x2="534.6" y2="674.4" stroke="#1a1a1a" stroke-width="1.0" />
<polygon points="34,858.5 31.5,856.5 44.5,833.5 47,835.5" fill="#fff" stroke="#1a1a1a" stroke-width="1" stroke-linejoin="round" />
<polygon points="50,844 47.6,842 71,829.3 73.5,831.3" fill="#fff" stroke="#1a1a1a" stroke-width="1" stroke-linejoin="round" />
<polygon points="34,858.5 47,835.5 50,844 73.5,831.3 75,849 50,860.5 50,869" fill="#fff" stroke="#1a1a1a" stroke-width="1.2" stroke-linejoin="round" />
<g transform="translate(50.3 859) rotate(-25) skewX(-12)"><text class="b" x="0" y="0" font-size="16.5" font-weight="bold" textLength="25.5" lengthAdjust="spacingAndGlyphs">FWD</text></g>
<text transform="translate(223.1 65.1) scale(1.11 1)" font-size="15.4">2</text>
<text transform="translate(232.6 65.1) scale(1.11 1)" font-size="15.4">7</text>
<text transform="translate(340.7 63.6) scale(1.11 1)" font-size="15.4">2</text>
<text transform="translate(350.2 63.6) scale(1.11 1)" font-size="15.4">7</text>
<text transform="translate(223.1 89.2) scale(1.11 1)" font-size="15.4">2</text>
<text transform="translate(232.6 89.2) scale(1.11 1)" font-size="15.4">8</text>
<text transform="translate(340.7 88.3) scale(1.11 1)" font-size="15.4">2</text>
<text transform="translate(350.2 88.3) scale(1.11 1)" font-size="15.4">8</text>
<text transform="translate(400.7 111.7) scale(1.11 1)" font-size="15.4">2</text>
<path transform="translate(409.6 111.7)" d="M7.4,0 L7.4,-10.6 L6.3,-10.6 Q5.5,-8.7 2.6,-8.2 L2.6,-7.1 Q4.7,-7.3 5.95,-8 L5.95,0 Z" fill="#111"/>
<path transform="translate(222.9 156.9)" d="M7.4,0 L7.4,-10.6 L6.3,-10.6 Q5.5,-8.7 2.6,-8.2 L2.6,-7.1 Q4.7,-7.3 5.95,-8 L5.95,0 Z" fill="#111"/>
<text transform="translate(232.4 156.9) scale(1.11 1)" font-size="15.4">9</text>
<text transform="translate(255.6 172.0) scale(1.11 1)" font-size="15.4">2</text>
<text transform="translate(265.1 172.0) scale(1.11 1)" font-size="15.4">0</text>
<text transform="translate(340.7 158.2) scale(1.11 1)" font-size="15.4">2</text>
<text transform="translate(350.2 158.2) scale(1.11 1)" font-size="15.4">6</text>
<text transform="translate(341.3 200.2) scale(1.11 1)" font-size="15.4">2</text>
<text transform="translate(350.8 200.2) scale(1.11 1)" font-size="15.4">2</text>
<text transform="translate(341.3 227.8) scale(1.11 1)" font-size="15.4">2</text>
<text transform="translate(350.8 227.8) scale(1.11 1)" font-size="15.4">4</text>
<text transform="translate(341.3 253.5) scale(1.11 1)" font-size="15.4">2</text>
<text transform="translate(350.8 253.5) scale(1.11 1)" font-size="15.4">5</text>
<text transform="translate(183.1 178.4) scale(1.11 1)" font-size="15.4">3</text>
<text transform="translate(192.6 178.4) scale(1.11 1)" font-size="15.4">6</text>
<text transform="translate(183.1 257.9) scale(1.11 1)" font-size="15.4">2</text>
<text transform="translate(192.6 257.9) scale(1.11 1)" font-size="15.4">3</text>
<text transform="translate(204.3 372.0) scale(1.11 1)" font-size="15.4">3</text>
<text transform="translate(213.8 372.0) scale(1.11 1)" font-size="15.4">8</text>
<text transform="translate(204.3 409.5) scale(1.11 1)" font-size="15.4">3</text>
<path transform="translate(213.2 409.5)" d="M7.4,0 L7.4,-10.6 L6.3,-10.6 Q5.5,-8.7 2.6,-8.2 L2.6,-7.1 Q4.7,-7.3 5.95,-8 L5.95,0 Z" fill="#111"/>
<text transform="translate(65.6 404.8) scale(1.11 1)" font-size="15.4">3</text>
<text transform="translate(75.1 404.8) scale(1.11 1)" font-size="15.4">3</text>
<text transform="translate(65.6 428.0) scale(1.11 1)" font-size="15.4">3</text>
<text transform="translate(75.1 428.0) scale(1.11 1)" font-size="15.4">4</text>
<text transform="translate(204.3 472.7) scale(1.11 1)" font-size="15.4">2</text>
<text transform="translate(213.8 472.7) scale(1.11 1)" font-size="15.4">9</text>
<text transform="translate(167.2 486.7) scale(1.11 1)" font-size="15.4">3</text>
<text transform="translate(176.7 486.7) scale(1.11 1)" font-size="15.4">0</text>
<text transform="translate(206.1 527.7) scale(1.11 1)" font-size="15.4">3</text>
<text transform="translate(215.6 527.7) scale(1.11 1)" font-size="15.4">2</text>
<text transform="translate(18.1 525.7) scale(1.11 1)" font-size="15.4">3</text>
<text transform="translate(27.6 525.7) scale(1.11 1)" font-size="15.4">5</text>
<text transform="translate(209.9 563.8) scale(1.11 1)" font-size="15.4">4</text>
<text transform="translate(340.1 537.6) scale(1.11 1)" font-size="15.4">6</text>
<text transform="translate(340.6 565.6) scale(1.11 1)" font-size="15.4">8</text>
<text transform="translate(339.8 589.1) scale(1.11 1)" font-size="15.4">7</text>
<text transform="translate(366.3 597.3) scale(1.11 1)" font-size="15.4">4</text>
<text transform="translate(375.8 597.3) scale(1.11 1)" font-size="15.4">7</text>
<path transform="translate(576.5 571.7)" d="M7.4,0 L7.4,-10.6 L6.3,-10.6 Q5.5,-8.7 2.6,-8.2 L2.6,-7.1 Q4.7,-7.3 5.95,-8 L5.95,0 Z" fill="#111"/>
<text transform="translate(586.0 571.7) scale(1.11 1)" font-size="15.4">5</text>
<path transform="translate(553.2 585.9)" d="M7.4,0 L7.4,-10.6 L6.3,-10.6 Q5.5,-8.7 2.6,-8.2 L2.6,-7.1 Q4.7,-7.3 5.95,-8 L5.95,0 Z" fill="#111"/>
<text transform="translate(562.7 585.9) scale(1.11 1)" font-size="15.4">3</text>
<text transform="translate(527.6 601.7) scale(1.11 1)" font-size="15.4">4</text>
<text transform="translate(537.1 601.7) scale(1.11 1)" font-size="15.4">5</text>
<text transform="translate(503.3 616.7) scale(1.11 1)" font-size="15.4">4</text>
<text transform="translate(512.8 616.7) scale(1.11 1)" font-size="15.4">3</text>
<text transform="translate(472.3 635.9) scale(1.11 1)" font-size="15.4">4</text>
<text transform="translate(481.8 635.9) scale(1.11 1)" font-size="15.4">4</text>
<text transform="translate(443.1 653.8) scale(1.11 1)" font-size="15.4">5</text>
<path transform="translate(452.0 653.8)" d="M7.4,0 L7.4,-10.6 L6.3,-10.6 Q5.5,-8.7 2.6,-8.2 L2.6,-7.1 Q4.7,-7.3 5.95,-8 L5.95,0 Z" fill="#111"/>
<text transform="translate(405.6 677.6) scale(1.11 1)" font-size="15.4">4</text>
<text transform="translate(415.1 677.6) scale(1.11 1)" font-size="15.4">9</text>
<text transform="translate(375.6 695.8) scale(1.11 1)" font-size="15.4">4</text>
<text transform="translate(385.1 695.8) scale(1.11 1)" font-size="15.4">8</text>
<text transform="translate(351.8 710.0) scale(1.11 1)" font-size="15.4">4</text>
<text transform="translate(361.3 710.0) scale(1.11 1)" font-size="15.4">6</text>
<text transform="translate(324.8 726.4) scale(1.11 1)" font-size="15.4">5</text>
<text transform="translate(334.3 726.4) scale(1.11 1)" font-size="15.4">0</text>
<text transform="translate(298.1 743.1) scale(1.11 1)" font-size="15.4">4</text>
<path transform="translate(307.0 743.1)" d="M7.4,0 L7.4,-10.6 L6.3,-10.6 Q5.5,-8.7 2.6,-8.2 L2.6,-7.1 Q4.7,-7.3 5.95,-8 L5.95,0 Z" fill="#111"/>
<text transform="translate(275.6 759.9) scale(1.11 1)" font-size="15.4">5</text>
<text transform="translate(246.8 774.5) scale(1.11 1)" font-size="15.4">4</text>
<text transform="translate(256.3 774.5) scale(1.11 1)" font-size="15.4">2</text>
<path transform="translate(524.8 654.2)" d="M7.4,0 L7.4,-10.6 L6.3,-10.6 Q5.5,-8.7 2.6,-8.2 L2.6,-7.1 Q4.7,-7.3 5.95,-8 L5.95,0 Z" fill="#111"/>
<text transform="translate(534.3 654.2) scale(1.11 1)" font-size="15.4">4</text>
<text transform="translate(36.9 701.7) scale(1.11 1)" font-size="15.4">9</text>
<path transform="translate(50.5 717.0)" d="M7.4,0 L7.4,-10.6 L6.3,-10.6 Q5.5,-8.7 2.6,-8.2 L2.6,-7.1 Q4.7,-7.3 5.95,-8 L5.95,0 Z" fill="#111"/>
<text transform="translate(60.0 717.0) scale(1.11 1)" font-size="15.4">0</text>
<path transform="translate(83.2 778.2)" d="M7.4,0 L7.4,-10.6 L6.3,-10.6 Q5.5,-8.7 2.6,-8.2 L2.6,-7.1 Q4.7,-7.3 5.95,-8 L5.95,0 Z" fill="#111"/>
<text transform="translate(92.7 778.2) scale(1.11 1)" font-size="15.4">0</text>
<text transform="translate(62.4 792.3) scale(1.11 1)" font-size="15.4">9</text>
<path transform="translate(516.9 763.2)" d="M7.4,0 L7.4,-10.6 L6.3,-10.6 Q5.5,-8.7 2.6,-8.2 L2.6,-7.1 Q4.7,-7.3 5.95,-8 L5.95,0 Z" fill="#111"/>
<text transform="translate(526.4 763.2) scale(1.11 1)" font-size="15.4">7</text>
<path transform="translate(496.9 775.6)" d="M7.4,0 L7.4,-10.6 L6.3,-10.6 Q5.5,-8.7 2.6,-8.2 L2.6,-7.1 Q4.7,-7.3 5.95,-8 L5.95,0 Z" fill="#111"/>
<text transform="translate(506.4 775.6) scale(1.11 1)" font-size="15.4">8</text>
<path transform="translate(426.2 781.2)" d="M7.4,0 L7.4,-10.6 L6.3,-10.6 Q5.5,-8.7 2.6,-8.2 L2.6,-7.1 Q4.7,-7.3 5.95,-8 L5.95,0 Z" fill="#111"/>
<text transform="translate(435.7 781.2) scale(1.11 1)" font-size="15.4">2</text>
<path transform="translate(460.4 798.1)" d="M7.4,0 L7.4,-10.6 L6.3,-10.6 Q5.5,-8.7 2.6,-8.2 L2.6,-7.1 Q4.7,-7.3 5.95,-8 L5.95,0 Z" fill="#111"/>
<path transform="translate(469.3 798.1)" d="M7.4,0 L7.4,-10.6 L6.3,-10.6 Q5.5,-8.7 2.6,-8.2 L2.6,-7.1 Q4.7,-7.3 5.95,-8 L5.95,0 Z" fill="#111"/>
<path transform="translate(418.7 823.2)" d="M7.4,0 L7.4,-10.6 L6.3,-10.6 Q5.5,-8.7 2.6,-8.2 L2.6,-7.1 Q4.7,-7.3 5.95,-8 L5.95,0 Z" fill="#111"/>
<text transform="translate(428.2 823.2) scale(1.11 1)" font-size="15.4">6</text>
<text transform="translate(256.3 830.1) scale(1.11 1)" font-size="15.4">4</text>
<text transform="translate(265.8 830.1) scale(1.11 1)" font-size="15.4">0</text>
<text transform="translate(256.3 856.5) scale(1.11 1)" font-size="15.4">3</text>
<text transform="translate(265.8 856.5) scale(1.11 1)" font-size="15.4">7</text>
<text transform="translate(256.3 878.0) scale(1.11 1)" font-size="15.4">3</text>
<text transform="translate(265.8 878.0) scale(1.11 1)" font-size="15.4">9</text>
<text transform="translate(184.3 859.5) scale(1.11 1)" font-size="15.4">3</text>
<text transform="translate(150.6 878.5) scale(1.11 1)" font-size="15.4">2</text>
<text class="n" x="7.9" y="890.4" font-size="13.5" textLength="104.6" lengthAdjust="spacingAndGlyphs">6AU1100-G270</text>
<line x1="244.5" y1="59.5" x2="272.5" y2="62" stroke="#1a1a1a" stroke-width="1.0" />
<line x1="339.5" y1="59.5" x2="309.8" y2="66.3" stroke="#1a1a1a" stroke-width="1.0" />
<line x1="243.8" y1="83.8" x2="273.8" y2="85.8" stroke="#1a1a1a" stroke-width="1.0" />
<line x1="339.5" y1="84.5" x2="308" y2="86.3" stroke="#1a1a1a" stroke-width="1.0" />
<line x1="400" y1="106.5" x2="371" y2="112" stroke="#1a1a1a" stroke-width="1.0" />
</svg>
</body></html>
